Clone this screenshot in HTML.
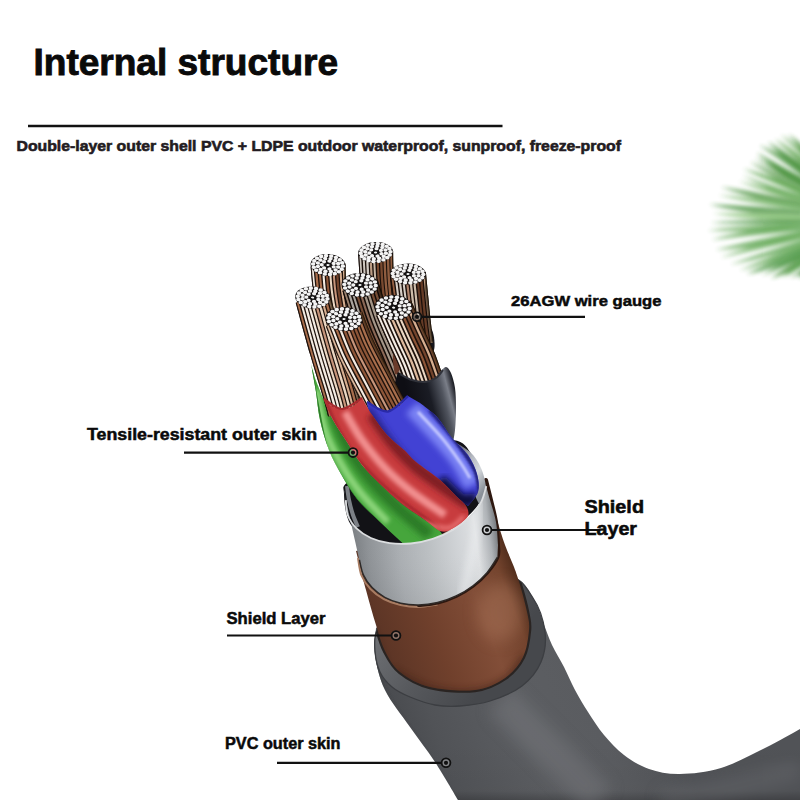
<!DOCTYPE html>
<html><head><meta charset="utf-8"><style>
html,body{margin:0;padding:0;background:#fff;overflow:hidden;width:800px;height:800px;}
svg{display:block;}
text{font-family:"Liberation Sans",sans-serif;font-weight:bold;}
</style></head><body>
<svg width="800" height="800" viewBox="0 0 800 800">
<defs>
<filter id="blurLeaf" x="-30%" y="-30%" width="160%" height="160%"><feGaussianBlur stdDeviation="1.9"/></filter>
<filter id="b05"><feGaussianBlur stdDeviation="0.5"/></filter>
<filter id="b1" x="-10%" y="-10%" width="120%" height="120%"><feGaussianBlur stdDeviation="1"/></filter>
<filter id="b2" x="-20%" y="-20%" width="140%" height="140%"><feGaussianBlur stdDeviation="2"/></filter>
<filter id="b3" x="-30%" y="-30%" width="160%" height="160%"><feGaussianBlur stdDeviation="3"/></filter>
<filter id="b6" x="-50%" y="-50%" width="200%" height="200%"><feGaussianBlur stdDeviation="8"/></filter>
<linearGradient id="gCapShade" x1="0" y1="0" x2="1" y2="1"><stop offset="0" stop-color="#fff" stop-opacity="0"/><stop offset="1" stop-color="#000" stop-opacity="0.15"/></linearGradient><linearGradient id="gPVC" gradientUnits="userSpaceOnUse" x1="380" y1="740" x2="640" y2="640"><stop offset="0" stop-color="#44464a"/><stop offset="0.2" stop-color="#515357"/><stop offset="0.5" stop-color="#5c5e62"/><stop offset="0.75" stop-color="#5a5c60"/><stop offset="1" stop-color="#515357"/></linearGradient><linearGradient id="gPVCb" gradientUnits="userSpaceOnUse" x1="0" y1="740" x2="0" y2="800"><stop offset="0" stop-color="#000" stop-opacity="0"/><stop offset="0.85" stop-color="#000" stop-opacity="0.03"/><stop offset="1" stop-color="#000" stop-opacity="0.2"/></linearGradient><clipPath id="cPVC"><path d="M376.0,628.0 C375.8,632.5 373.5,644.7 375.0,655.0 C376.5,665.3 379.2,678.0 385.0,690.0 C390.8,702.0 401.7,715.0 410.0,727.0 C418.3,739.0 427.0,749.8 435.0,762.0 C443.0,774.2 454.2,793.7 458.0,800.0 L800.0,800.0 L800.0,729.0 C794.2,732.2 778.2,741.5 765.0,748.0 C751.8,754.5 735.2,763.7 721.0,768.0 C706.8,772.3 692.0,773.8 680.0,774.0 C668.0,774.2 658.3,772.2 649.0,769.0 C639.7,765.8 631.5,760.7 624.0,755.0 C616.5,749.3 610.0,742.2 604.0,735.0 C598.0,727.8 592.8,719.5 588.0,712.0 C583.2,704.5 579.0,697.5 575.0,690.0 C571.0,682.5 567.8,674.5 564.0,667.0 C560.2,659.5 555.5,652.5 552.0,645.0 C548.5,637.5 546.0,629.5 543.0,622.0 C540.0,614.5 537.5,606.7 534.0,600.0 C530.5,593.3 526.8,586.7 522.0,582.0 C517.2,577.3 507.8,573.7 505.0,572.0 L440.0,580.0 Z"/></clipPath><linearGradient id="gRim" gradientUnits="userSpaceOnUse" x1="378" y1="640" x2="470" y2="706"><stop offset="0" stop-color="#6c6e72"/><stop offset="0.5" stop-color="#56585c"/><stop offset="1" stop-color="#46484c"/></linearGradient><clipPath id="cRim"><path d="M377.0,630.0 C373.7,637.2 374.5,644.0 375.0,651.0 C375.5,658.0 377.2,666.0 380.0,672.0 C382.8,678.0 387.0,682.8 392.0,687.0 C397.0,691.2 402.8,694.0 410.0,697.0 C417.2,700.0 426.7,703.5 435.0,705.0 C443.3,706.5 450.8,706.7 460.0,706.0 C469.2,705.3 479.7,704.3 490.0,701.0 C500.3,697.7 513.5,692.5 522.0,686.0 C530.5,679.5 537.2,671.0 541.0,662.0 C544.8,653.0 546.3,642.7 545.0,632.0 C543.7,621.3 539.3,607.3 533.0,598.0 C526.7,588.7 522.5,578.2 507.0,576.0 C491.5,573.8 458.7,579.7 440.0,585.0 C421.3,590.3 405.5,600.5 395.0,608.0 C384.5,615.5 380.3,622.8 377.0,630.0 Z"/></clipPath><linearGradient id="gCop" gradientUnits="userSpaceOnUse" x1="372" y1="660" x2="532" y2="600"><stop offset="0" stop-color="#46281c"/><stop offset="0.12" stop-color="#5e3626"/><stop offset="0.4" stop-color="#70402c"/><stop offset="0.7" stop-color="#824e38"/><stop offset="0.88" stop-color="#74442e"/><stop offset="1" stop-color="#462616"/></linearGradient><clipPath id="cCop"><path d="M356.0,551.0 C357.7,557.5 362.7,577.7 366.0,590.0 C369.3,602.3 372.8,614.8 376.0,625.0 C379.2,635.2 381.0,643.2 385.0,651.0 C389.0,658.8 392.5,666.0 400.0,672.0 C407.5,678.0 417.5,684.0 430.0,687.0 C442.5,690.0 462.5,691.5 475.0,690.0 C487.5,688.5 497.0,683.5 505.0,678.0 C513.0,672.5 519.0,665.0 523.0,657.0 C527.0,649.0 528.3,637.5 529.0,630.0 C529.7,622.5 528.5,619.5 527.0,612.0 C525.5,604.5 522.2,592.5 520.0,585.0 C517.8,577.5 516.5,573.7 514.0,567.0 C511.5,560.3 507.8,552.8 505.0,545.0 C502.2,537.2 498.3,524.2 497.0,520.0 Z"/></clipPath><linearGradient id="gBack" gradientUnits="userSpaceOnUse" x1="450" y1="450" x2="492" y2="478"><stop offset="0" stop-color="#50545c"/><stop offset="0.45" stop-color="#b8bcc4"/><stop offset="0.7" stop-color="#d4d8dc"/><stop offset="1" stop-color="#8a9098"/></linearGradient><linearGradient id="gBlack" gradientUnits="userSpaceOnUse" x1="412" y1="412" x2="458" y2="400"><stop offset="0" stop-color="#0e0e14"/><stop offset="0.45" stop-color="#1a1c24"/><stop offset="0.72" stop-color="#50545e"/><stop offset="0.85" stop-color="#7a7e88"/><stop offset="0.95" stop-color="#3a3c44"/><stop offset="1" stop-color="#1a1c22"/></linearGradient><linearGradient id="gBlue" gradientUnits="userSpaceOnUse" x1="392" y1="470" x2="475" y2="418"><stop offset="0" stop-color="#28288a"/><stop offset="0.25" stop-color="#3434b4"/><stop offset="0.5" stop-color="#4040d0"/><stop offset="0.7" stop-color="#5a5ee4"/><stop offset="0.8" stop-color="#a0a6f8"/><stop offset="0.88" stop-color="#5050d8"/><stop offset="1" stop-color="#1e1e6a"/></linearGradient><linearGradient id="gRed" gradientUnits="userSpaceOnUse" x1="343" y1="472" x2="420" y2="420"><stop offset="0" stop-color="#a02428"/><stop offset="0.15" stop-color="#cc4c4e"/><stop offset="0.3" stop-color="#ea7a7a"/><stop offset="0.42" stop-color="#d24a4a"/><stop offset="0.75" stop-color="#bc3838"/><stop offset="1" stop-color="#7a1c22"/></linearGradient><linearGradient id="gGreen" gradientUnits="userSpaceOnUse" x1="322" y1="472" x2="378" y2="450"><stop offset="0" stop-color="#206a1e"/><stop offset="0.2" stop-color="#4aa23e"/><stop offset="0.4" stop-color="#84cc6e"/><stop offset="0.6" stop-color="#46a03a"/><stop offset="1" stop-color="#1e5e1a"/></linearGradient><clipPath id="cb1"><path d="M393.1,251.1 C393.2,255.7 393.3,269.2 394.0,278.7 C394.6,288.2 396.4,303.4 396.9,308.3 L363.1,311.7 C362.6,306.6 360.9,291.1 360.0,281.3 C359.2,271.5 358.4,257.6 358.1,252.9 Z"/></clipPath><clipPath id="cb2"><path d="M345.4,263.6 C345.7,267.7 346.0,279.9 346.9,288.0 C347.8,296.1 350.1,308.3 350.8,312.3 L317.2,317.7 C316.5,313.4 314.2,300.6 313.1,292.0 C312.0,283.5 311.0,270.7 310.6,266.4 Z"/></clipPath><clipPath id="cb3"><path d="M425.9,271.9 C426.3,276.3 427.6,289.5 428.4,298.0 C429.2,306.4 430.0,315.3 430.9,322.8 C431.7,330.2 432.9,339.3 433.3,342.6 L400.7,347.4 C400.1,344.1 398.3,334.8 397.1,327.2 C396.0,319.7 394.8,310.6 393.6,302.0 C392.4,293.5 390.7,280.4 390.1,276.1 Z"/></clipPath><clipPath id="cb4"><path d="M377.6,279.3 C379.6,285.3 385.1,304.1 389.3,315.6 C393.6,327.0 398.4,336.9 403.0,347.8 C407.6,358.6 414.7,375.3 417.0,380.8 L383.0,395.2 C380.6,389.7 373.7,373.4 369.0,362.2 C364.3,351.1 359.1,340.4 354.7,328.4 C350.2,316.5 344.4,297.0 342.4,290.7 Z"/></clipPath><clipPath id="cb5"><path d="M411.0,300.3 C413.0,305.0 419.4,319.5 423.3,328.2 C427.3,337.0 431.2,344.4 434.6,352.8 C438.0,361.2 442.3,374.3 443.9,378.6 L408.1,391.4 C406.7,387.4 402.7,375.1 399.4,367.2 C396.2,359.2 392.5,352.4 388.7,343.8 C384.8,335.2 378.3,320.4 376.2,315.7 Z"/></clipPath><clipPath id="cGreen"><path d="M311.0,364.0 C311.8,368.7 314.5,382.7 316.0,392.0 C317.5,401.3 317.8,410.3 320.0,420.0 C322.2,429.7 325.5,441.0 329.0,450.0 C332.5,459.0 336.3,465.8 341.0,474.0 C345.7,482.2 350.5,491.0 357.0,499.0 C363.5,507.0 373.3,515.5 380.0,522.0 C386.7,528.5 392.0,533.3 397.0,538.0 C402.0,542.7 407.8,548.0 410.0,550.0 L450.0,552.0 C448.3,548.5 444.2,536.3 440.0,531.0 C435.8,525.7 431.3,524.5 425.0,520.0 C418.7,515.5 409.5,510.0 402.0,504.0 C394.5,498.0 386.7,490.5 380.0,484.0 C373.3,477.5 367.5,472.0 362.0,465.0 C356.5,458.0 351.8,449.5 347.0,442.0 C342.2,434.5 337.0,427.3 333.0,420.0 C329.0,412.7 326.0,405.0 323.0,398.0 C320.0,391.0 316.3,381.3 315.0,378.0 Z"/></clipPath><clipPath id="cb6"><path d="M329.5,293.3 C331.9,302.0 339.3,329.4 343.8,345.2 C348.4,360.9 353.8,377.7 356.8,388.1 C359.8,398.5 361.1,404.3 361.9,407.5 L328.1,416.5 C327.3,413.4 326.2,408.1 323.2,397.9 C320.2,387.6 314.8,370.7 310.2,354.8 C305.6,339.0 298.1,311.4 295.7,302.7 Z"/></clipPath><clipPath id="cb7"><path d="M362.1,311.8 C364.0,316.6 369.2,331.0 373.7,340.9 C378.3,350.7 383.7,360.3 389.3,371.0 C394.9,381.6 404.2,399.2 407.2,404.9 L372.8,423.1 C369.8,417.4 360.5,400.0 354.7,389.0 C349.0,378.0 343.1,367.6 338.3,357.1 C333.5,346.7 328.0,331.4 325.9,326.2 Z"/></clipPath><clipPath id="cBlue"><path d="M367.0,401.0 C368.7,402.3 373.5,407.3 377.0,409.0 C380.5,410.7 384.3,411.5 388.0,411.0 C391.7,410.5 395.7,408.5 399.0,406.0 C402.3,403.5 406.5,397.7 408.0,396.0 L420.0,403.0 C422.8,405.3 431.7,411.2 437.0,417.0 C442.3,422.8 446.8,431.7 452.0,438.0 C457.2,444.3 463.8,449.0 468.0,455.0 C472.2,461.0 475.3,467.8 477.0,474.0 C478.7,480.2 479.5,486.7 478.0,492.0 C476.5,497.3 469.7,503.7 468.0,506.0 L456.0,497.0 C453.3,494.3 446.7,486.7 440.0,481.0 C433.3,475.3 422.0,468.0 416.0,463.0 C410.0,458.0 408.8,455.5 404.0,451.0 C399.2,446.5 392.7,442.3 387.0,436.0 C381.3,429.7 373.3,418.8 370.0,413.0 C366.7,407.2 367.5,403.0 367.0,401.0 Z"/></clipPath><clipPath id="cRed"><path d="M323.0,398.0 C324.5,399.3 328.8,404.2 332.0,406.0 C335.2,407.8 338.5,409.0 342.0,409.0 C345.5,409.0 349.7,407.8 353.0,406.0 C356.3,404.2 360.5,399.3 362.0,398.0 L370.0,412.0 C372.8,415.8 381.3,428.7 387.0,435.0 C392.7,441.3 399.2,445.5 404.0,450.0 C408.8,454.5 410.0,457.0 416.0,462.0 C422.0,467.0 433.3,474.3 440.0,480.0 C446.7,485.7 451.7,491.7 456.0,496.0 C460.3,500.3 464.0,502.7 466.0,506.0 C468.0,509.3 469.3,512.7 468.0,516.0 C466.7,519.3 459.7,524.3 458.0,526.0 L448.0,531.0 C446.7,531.0 443.8,532.8 440.0,531.0 C436.2,529.2 431.3,524.5 425.0,520.0 C418.7,515.5 409.5,510.0 402.0,504.0 C394.5,498.0 386.7,490.5 380.0,484.0 C373.3,477.5 367.5,472.0 362.0,465.0 C356.5,458.0 351.8,449.5 347.0,442.0 C342.2,434.5 337.0,427.3 333.0,420.0 C329.0,412.7 324.7,401.7 323.0,398.0 Z"/></clipPath><linearGradient id="gSil" gradientUnits="userSpaceOnUse" x1="346" y1="560" x2="498" y2="540"><stop offset="0" stop-color="#6e7276"/><stop offset="0.15" stop-color="#8e9296"/><stop offset="0.35" stop-color="#aaaeb2"/><stop offset="0.55" stop-color="#bcc0c3"/><stop offset="0.75" stop-color="#d2d5d8"/><stop offset="0.86" stop-color="#dfe1e3"/><stop offset="0.95" stop-color="#aeb2b6"/><stop offset="1" stop-color="#7a7e82"/></linearGradient><linearGradient id="gSilV" gradientUnits="userSpaceOnUse" x1="0" y1="500" x2="0" y2="605"><stop offset="0" stop-color="#fff" stop-opacity="0.0"/><stop offset="0.4" stop-color="#fff" stop-opacity="0"/><stop offset="1" stop-color="#000" stop-opacity="0.05"/></linearGradient><clipPath id="cSil"><path d="M345.0,490.0 C345.2,491.7 343.6,488.3 346.0,500.0 C348.4,511.7 356.6,547.5 359.5,560.0 C362.4,572.5 361.3,570.3 363.4,574.9 C365.5,579.5 368.5,583.9 372.1,587.6 C375.7,591.3 380.1,594.7 384.8,597.3 C389.6,599.9 395.0,601.9 400.6,603.2 C406.2,604.5 412.5,605.1 418.7,605.0 C424.9,604.9 431.4,604.0 437.6,602.5 C443.8,601.0 450.2,598.7 456.1,595.9 C462.0,593.1 467.9,589.6 473.0,585.7 C478.1,581.8 482.9,577.4 487.0,572.6 C491.1,567.9 495.7,559.8 497.4,557.2 L498.0,545.0 C497.7,541.2 497.3,529.5 496.0,522.0 C494.7,514.5 491.7,506.0 490.0,500.0 C488.3,494.0 486.7,488.3 486.0,486.0 L486.3,486.1 C485.4,488.8 483.9,496.9 481.1,502.1 C478.3,507.3 474.3,512.6 469.6,517.2 C464.9,521.8 459.0,526.3 452.9,529.9 C446.8,533.5 439.8,536.6 432.8,538.9 C425.8,541.2 418.1,542.8 410.9,543.5 C403.7,544.2 396.3,544.1 389.6,543.2 C382.9,542.3 376.4,540.5 370.9,538.0 C365.4,535.5 360.4,532.2 356.5,528.4 C352.6,524.6 349.6,520.0 347.8,515.3 C346.0,510.6 346.3,503.5 345.8,500.1 C345.3,496.7 345.1,495.9 345.0,495.0 Z"/></clipPath></defs>
<rect width="800" height="800" fill="#fff"/>
<g filter="url(#blurLeaf)" opacity="0.95"><path d="M824.5,169.2 Q811.8,150.2 788.6,134.3 Q805.8,155.9 821.7,171.9 Z" fill="#468f38" opacity="0.90"/><path d="M821.1,171.2 Q806.8,150.9 781.0,134.8 Q802.4,155.6 819.1,173.4 Z" fill="#4e9a3e" opacity="0.82"/><path d="M821.7,176.3 Q804.2,155.4 775.0,139.0 Q798.7,161.8 819.2,179.3 Z" fill="#5aa24a" opacity="0.91"/><path d="M821.5,179.7 Q799.4,159.9 767.8,141.7 Q792.7,168.6 818.4,183.7 Z" fill="#3e8c32" opacity="0.87"/><path d="M815.1,180.1 Q794.4,158.1 759.7,145.3 Q788.9,166.3 812.5,183.9 Z" fill="#3e8c32" opacity="0.78"/><path d="M816.4,185.7 Q789.7,170.5 756.7,152.7 Q784.9,178.7 814.2,189.4 Z" fill="#3e8c32" opacity="0.95"/><path d="M820.6,191.8 Q792.1,174.6 754.7,158.2 Q788.9,180.5 819.1,194.5 Z" fill="#468f38" opacity="0.90"/><path d="M819.5,192.9 Q789.3,176.9 750.1,162.1 Q784.6,186.6 817.3,197.4 Z" fill="#468f38" opacity="0.71"/><path d="M819.2,197.2 Q787.0,179.6 743.4,168.8 Q783.6,188.1 817.6,201.1 Z" fill="#5aa24a" opacity="0.93"/><path d="M815.2,199.3 Q782.1,189.8 742.6,175.6 Q779.9,196.1 814.2,202.2 Z" fill="#4e9a3e" opacity="0.85"/><path d="M814.9,201.9 Q781.3,190.6 738.9,181.3 Q779.1,197.9 813.9,205.3 Z" fill="#6aae5a" opacity="0.87"/><path d="M811.9,204.6 Q771.6,193.9 721.0,187.1 Q769.2,204.5 810.8,209.5 Z" fill="#3e8c32" opacity="0.79"/><path d="M808.4,207.6 Q768.9,197.3 718.9,195.3 Q767.3,207.0 807.7,212.1 Z" fill="#6aae5a" opacity="0.73"/><path d="M803.4,211.0 Q761.3,205.7 709.3,204.4 Q760.2,216.8 802.9,216.1 Z" fill="#3e8c32" opacity="0.81"/><path d="M810.6,215.1 Q766.8,211.8 713.1,213.5 Q766.4,222.1 810.4,219.9 Z" fill="#8cc47c" opacity="0.95"/><path d="M809.3,219.6 Q764.8,217.9 710.5,222.9 Q764.9,224.5 809.4,222.6 Z" fill="#44923a" opacity="0.86"/><path d="M804.8,221.9 Q761.0,223.1 707.8,230.4 Q761.6,233.2 805.1,226.5 Z" fill="#4e9c40" opacity="0.71"/><path d="M805.1,225.9 Q762.1,224.9 711.6,239.7 Q763.3,234.3 805.6,230.2 Z" fill="#4e9c40" opacity="0.77"/><path d="M812.9,228.5 Q768.9,236.6 715.7,249.7 Q770.9,247.0 813.8,233.3 Z" fill="#4e9c40" opacity="0.77"/><path d="M814.6,231.6 Q770.9,237.3 720.8,257.5 Q773.3,246.8 815.7,236.0 Z" fill="#5aa44c" opacity="0.73"/><path d="M807.8,238.1 Q772.7,249.2 730.4,264.6 Q774.9,256.1 808.8,241.3 Z" fill="#4e9c40" opacity="0.81"/><path d="M816.5,238.3 Q781.1,250.7 739.7,270.5 Q784.6,259.8 818.1,242.5 Z" fill="#4e9c40" opacity="0.76"/><path d="M805.4,245.6 Q778.8,257.8 746.8,274.0 Q783.1,267.7 807.4,250.2 Z" fill="#44923a" opacity="0.81"/><path d="M818.7,244.4 Q791.9,255.6 762.3,275.6 Q795.5,262.6 820.3,247.7 Z" fill="#44923a" opacity="0.91"/><path d="M810.3,252.6 Q791.4,262.0 771.2,278.5 Q796.7,271.0 812.8,256.7 Z" fill="#3a8a2e" opacity="0.79"/><path d="M819.4,251.1 Q800.1,258.3 783.3,277.5 Q804.8,265.5 821.6,254.5 Z" fill="#4e9c40" opacity="0.86"/><path d="M817.6,256.0 Q806.0,266.7 790.3,277.9 Q810.1,272.4 819.5,258.6 Z" fill="#34842a" opacity="0.70"/><path d="M816.2,262.0 Q804.0,263.9 799.4,278.8 Q809.8,271.0 818.9,265.2 Z" fill="#34842a" opacity="0.95"/></g>
<path d="M376.0,628.0 C375.8,632.5 373.5,644.7 375.0,655.0 C376.5,665.3 379.2,678.0 385.0,690.0 C390.8,702.0 401.7,715.0 410.0,727.0 C418.3,739.0 427.0,749.8 435.0,762.0 C443.0,774.2 454.2,793.7 458.0,800.0 L800.0,800.0 L800.0,729.0 C794.2,732.2 778.2,741.5 765.0,748.0 C751.8,754.5 735.2,763.7 721.0,768.0 C706.8,772.3 692.0,773.8 680.0,774.0 C668.0,774.2 658.3,772.2 649.0,769.0 C639.7,765.8 631.5,760.7 624.0,755.0 C616.5,749.3 610.0,742.2 604.0,735.0 C598.0,727.8 592.8,719.5 588.0,712.0 C583.2,704.5 579.0,697.5 575.0,690.0 C571.0,682.5 567.8,674.5 564.0,667.0 C560.2,659.5 555.5,652.5 552.0,645.0 C548.5,637.5 546.0,629.5 543.0,622.0 C540.0,614.5 537.5,606.7 534.0,600.0 C530.5,593.3 526.8,586.7 522.0,582.0 C517.2,577.3 507.8,573.7 505.0,572.0 L440.0,580.0 Z" fill="url(#gPVC)"/>
<path d="M376.0,628.0 C375.8,632.5 373.5,644.7 375.0,655.0 C376.5,665.3 379.2,678.0 385.0,690.0 C390.8,702.0 401.7,715.0 410.0,727.0 C418.3,739.0 427.0,749.8 435.0,762.0 C443.0,774.2 454.2,793.7 458.0,800.0 L800.0,800.0 L800.0,729.0 C794.2,732.2 778.2,741.5 765.0,748.0 C751.8,754.5 735.2,763.7 721.0,768.0 C706.8,772.3 692.0,773.8 680.0,774.0 C668.0,774.2 658.3,772.2 649.0,769.0 C639.7,765.8 631.5,760.7 624.0,755.0 C616.5,749.3 610.0,742.2 604.0,735.0 C598.0,727.8 592.8,719.5 588.0,712.0 C583.2,704.5 579.0,697.5 575.0,690.0 C571.0,682.5 567.8,674.5 564.0,667.0 C560.2,659.5 555.5,652.5 552.0,645.0 C548.5,637.5 546.0,629.5 543.0,622.0 C540.0,614.5 537.5,606.7 534.0,600.0 C530.5,593.3 526.8,586.7 522.0,582.0 C517.2,577.3 507.8,573.7 505.0,572.0 L440.0,580.0 Z" fill="url(#gPVCb)"/>
<g clip-path="url(#cPVC)"><path d="M372.0,640.0 C373.5,648.3 375.3,675.0 381.0,690.0 C386.7,705.0 397.3,716.7 406.0,730.0 C414.7,743.3 424.7,756.7 433.0,770.0 C441.3,783.3 452.2,803.3 456.0,810.0" stroke="#3a3c40" stroke-width="6" fill="none" filter="url(#b2)"/><path d="M500.0,700.0 C507.5,707.5 528.3,728.3 545.0,745.0 C561.7,761.7 590.8,790.8 600.0,800.0" stroke="#7a7c80" stroke-width="34" fill="none" opacity="0.45" filter="url(#b6)"/><path d="M660.0,800.0 C670.0,798.3 696.7,795.0 720.0,790.0 C743.3,785.0 786.7,773.3 800.0,770.0" stroke="#74767a" stroke-width="20" fill="none" opacity="0.3" filter="url(#b6)"/></g>
<path d="M377.0,630.0 C373.7,637.2 374.5,644.0 375.0,651.0 C375.5,658.0 377.2,666.0 380.0,672.0 C382.8,678.0 387.0,682.8 392.0,687.0 C397.0,691.2 402.8,694.0 410.0,697.0 C417.2,700.0 426.7,703.5 435.0,705.0 C443.3,706.5 450.8,706.7 460.0,706.0 C469.2,705.3 479.7,704.3 490.0,701.0 C500.3,697.7 513.5,692.5 522.0,686.0 C530.5,679.5 537.2,671.0 541.0,662.0 C544.8,653.0 546.3,642.7 545.0,632.0 C543.7,621.3 539.3,607.3 533.0,598.0 C526.7,588.7 522.5,578.2 507.0,576.0 C491.5,573.8 458.7,579.7 440.0,585.0 C421.3,590.3 405.5,600.5 395.0,608.0 C384.5,615.5 380.3,622.8 377.0,630.0 Z" fill="url(#gRim)" stroke="#3c3e42" stroke-width="1.3"/>
<g clip-path="url(#cRim)"><path d="M356.0,551.0 C357.7,557.5 362.7,577.7 366.0,590.0 C369.3,602.3 372.8,614.8 376.0,625.0 C379.2,635.2 381.0,643.2 385.0,651.0 C389.0,658.8 392.5,666.0 400.0,672.0 C407.5,678.0 417.5,684.0 430.0,687.0 C442.5,690.0 462.5,691.5 475.0,690.0 C487.5,688.5 497.0,683.5 505.0,678.0 C513.0,672.5 519.0,665.0 523.0,657.0 C527.0,649.0 528.3,637.5 529.0,630.0 C529.7,622.5 528.5,619.5 527.0,612.0 C525.5,604.5 522.2,592.5 520.0,585.0 C517.8,577.5 516.5,573.7 514.0,567.0 C511.5,560.3 507.8,552.8 505.0,545.0 C502.2,537.2 498.3,524.2 497.0,520.0 Z" fill="#2a2422" stroke="#2a2422" stroke-width="4.5"/></g>
<path d="M356.0,551.0 C357.7,557.5 362.7,577.7 366.0,590.0 C369.3,602.3 372.8,614.8 376.0,625.0 C379.2,635.2 381.0,643.2 385.0,651.0 C389.0,658.8 392.5,666.0 400.0,672.0 C407.5,678.0 417.5,684.0 430.0,687.0 C442.5,690.0 462.5,691.5 475.0,690.0 C487.5,688.5 497.0,683.5 505.0,678.0 C513.0,672.5 519.0,665.0 523.0,657.0 C527.0,649.0 528.3,637.5 529.0,630.0 C529.7,622.5 528.5,619.5 527.0,612.0 C525.5,604.5 522.2,592.5 520.0,585.0 C517.8,577.5 516.5,573.7 514.0,567.0 C511.5,560.3 507.8,552.8 505.0,545.0 C502.2,537.2 498.3,524.2 497.0,520.0 Z" fill="url(#gCop)"/>
<g clip-path="url(#cCop)"><ellipse cx="500" cy="612" rx="22" ry="30" fill="#b07a5e" opacity="0.45" filter="url(#b6)"/><path d="M392.0,672.0 C398.3,675.0 416.2,686.5 430.0,690.0 C443.8,693.5 462.2,694.7 475.0,693.0 C487.8,691.3 498.5,686.0 507.0,680.0 C515.5,674.0 522.8,660.8 526.0,657.0" stroke="#3a1e12" stroke-width="10" opacity="0.45" fill="none" filter="url(#b3)"/></g>
<path d="M358.0,558.0 C358.6,560.9 359.4,570.3 361.5,575.5 C363.6,580.7 366.8,585.1 370.5,589.0 C374.2,592.9 378.8,596.3 383.8,599.0 C388.8,601.7 394.8,603.7 400.6,605.0 C406.4,606.3 412.5,607.1 418.7,607.0 C424.9,606.9 434.5,604.9 437.6,604.5" stroke="#a87c62" stroke-width="2" fill="none"/>
<path d="M486.0,480.0 C486.8,483.3 489.3,493.0 491.0,500.0 C492.7,507.0 494.8,514.5 496.0,522.0 C497.2,529.5 497.8,539.1 498.0,545.0 C498.2,550.9 499.2,552.6 497.4,557.2 C495.6,561.8 491.1,567.9 487.0,572.6 C482.9,577.4 478.1,581.8 473.0,585.7 C467.9,589.6 462.0,593.1 456.1,595.9 C450.2,598.7 443.8,601.0 437.6,602.5 C431.4,604.0 421.9,604.6 418.7,605.0" stroke="#2e1810" stroke-width="4" stroke-linecap="round" fill="none"/>
<path d="M344.0,494.0 C343.8,486.5 340.7,488.0 350.0,480.0 C359.3,472.0 382.8,452.7 400.0,446.0 C417.2,439.3 441.0,438.5 453.0,440.0 C465.0,441.5 467.0,448.0 472.0,455.0 C477.0,462.0 482.0,473.7 483.0,482.0 C484.0,490.3 483.2,497.3 478.0,505.0 C472.8,512.7 462.8,521.2 452.0,528.0 C441.2,534.8 425.3,543.8 413.0,546.0 C400.7,548.2 388.3,544.5 378.0,541.0 C367.7,537.5 356.7,532.8 351.0,525.0 C345.3,517.2 344.2,501.5 344.0,494.0 Z" fill="#121216"/>
<path d="M450.0,441.0 C455.0,441.7 464.8,447.5 470.0,452.0 C475.2,456.5 478.3,462.0 481.0,468.0 C483.7,474.0 485.5,481.3 486.0,488.0 C486.5,494.7 485.5,506.0 484.0,508.0 C482.5,510.0 479.3,505.0 477.0,500.0 C474.7,495.0 473.2,485.0 470.0,478.0 C466.8,471.0 463.0,463.0 458.0,458.0 C453.0,453.0 441.3,450.8 440.0,448.0 C438.7,445.2 445.0,440.3 450.0,441.0 Z" fill="url(#gBack)"/>
<path d="M347.0,486.0 C347.3,488.3 348.0,495.2 349.0,500.0 C350.0,504.8 351.5,510.5 353.0,515.0 C354.5,519.5 357.2,525.0 358.0,527.0" stroke="#7c8086" stroke-width="4" fill="none" filter="url(#b05)"/>
<path d="M393.1,251.1 C393.2,255.7 393.3,269.2 394.0,278.7 C394.6,288.2 396.4,303.4 396.9,308.3 L363.1,311.7 C362.6,306.6 360.9,291.1 360.0,281.3 C359.2,271.5 358.4,257.6 358.1,252.9 Z" fill="#1e120c"/>
<g clip-path="url(#cb1)"><path d="M394.4,237.3 C394.5,239.6 394.6,244.2 394.8,251.0 C395.0,257.9 395.0,269.1 395.6,278.6 C396.3,288.1 397.9,300.8 398.6,308.1 C399.3,315.5 399.8,320.5 400.1,322.9" stroke="#a86e4c" stroke-width="2.01" fill="none"/><path d="M390.9,237.4 C390.9,239.7 391.1,244.3 391.3,251.2 C391.6,258.1 391.6,269.3 392.3,278.8 C392.9,288.4 394.5,301.1 395.2,308.5 C396.0,315.9 396.5,320.8 396.7,323.3" stroke="#a86e4c" stroke-width="2.30" fill="none"/><path d="M387.3,237.5 C387.4,239.8 387.6,244.5 387.8,251.4 C388.1,258.3 388.2,269.5 388.9,279.1 C389.5,288.7 391.1,301.4 391.8,308.8 C392.6,316.2 393.1,321.2 393.3,323.7" stroke="#a86e4c" stroke-width="2.39" fill="none"/><path d="M383.8,237.7 C383.9,240.0 384.1,244.6 384.3,251.6 C384.6,258.5 384.8,269.8 385.5,279.4 C386.2,289.0 387.7,301.7 388.5,309.2 C389.2,316.6 389.7,321.6 389.9,324.1" stroke="#a86e4c" stroke-width="2.36" fill="none"/><path d="M380.2,237.8 C380.3,240.1 380.5,244.8 380.8,251.7 C381.2,258.7 381.4,270.0 382.1,279.6 C382.8,289.2 384.3,302.0 385.1,309.5 C385.8,317.0 386.3,321.9 386.6,324.4" stroke="#8e5638" stroke-width="2.34" fill="none"/><path d="M376.7,237.9 C376.8,240.3 377.0,244.9 377.3,251.9 C377.7,258.9 378.0,270.2 378.7,279.9 C379.4,289.5 380.9,302.3 381.7,309.8 C382.4,317.3 382.9,322.3 383.2,324.8" stroke="#8e5638" stroke-width="2.05" fill="none"/><path d="M373.1,238.1 C373.2,240.4 373.5,245.1 373.9,252.1 C374.2,259.1 374.6,270.4 375.3,280.1 C376.0,289.8 377.6,302.7 378.3,310.2 C379.1,317.7 379.6,322.7 379.8,325.2" stroke="#ead6c2" stroke-width="2.01" fill="none"/><path d="M369.6,238.2 C369.7,240.5 370.0,245.2 370.4,252.3 C370.7,259.3 371.2,270.7 371.9,280.4 C372.7,290.1 374.2,303.0 374.9,310.5 C375.7,318.0 376.2,323.1 376.4,325.6" stroke="#dcb89c" stroke-width="2.20" fill="none"/><path d="M366.0,238.3 C366.2,240.7 366.4,245.4 366.9,252.4 C367.3,259.5 367.7,270.9 368.5,280.6 C369.3,290.4 370.8,303.3 371.5,310.8 C372.3,318.4 372.8,323.4 373.1,325.9" stroke="#f4ebe2" stroke-width="2.35" fill="none"/><path d="M362.5,238.5 C362.6,240.8 362.9,245.5 363.4,252.6 C363.8,259.7 364.3,271.1 365.1,280.9 C365.9,290.7 367.4,303.6 368.2,311.2 C368.9,318.8 369.4,323.8 369.7,326.3" stroke="#f4ebe2" stroke-width="2.02" fill="none"/><path d="M358.9,238.6 C359.1,241.0 359.4,245.7 359.9,252.8 C360.3,259.9 360.9,271.4 361.7,281.2 C362.6,290.9 364.0,303.9 364.8,311.5 C365.5,319.1 366.0,324.2 366.3,326.7" stroke="#f4ebe2" stroke-width="2.05" fill="none"/><path d="M355.4,238.7 C355.5,241.1 355.9,245.8 356.4,253.0 C356.9,260.1 357.5,271.6 358.4,281.4 C359.2,291.2 360.6,304.2 361.4,311.9 C362.2,319.5 362.7,324.5 362.9,327.1" stroke="#f4ebe2" stroke-width="2.10" fill="none"/><path d="M393.1,251.1 C393.2,255.7 393.3,269.2 394.0,278.7 C394.6,288.2 396.4,303.4 396.9,308.3" stroke="#140a06" stroke-width="5" fill="none" opacity="0.75" filter="url(#b1)"/><path d="M358.1,252.9 C358.4,257.6 359.2,271.5 360.0,281.3 C360.9,291.1 362.6,306.6 363.1,311.7" stroke="#140a06" stroke-width="2.2" fill="none" opacity="0.8"/><path d="M393.1,251.1 C393.2,255.7 393.3,269.2 394.0,278.7 C394.6,288.2 396.4,303.4 396.9,308.3 L363.1,311.7 C362.6,306.6 360.9,291.1 360.0,281.3 C359.2,271.5 358.4,257.6 358.1,252.9 Z" fill="#000" opacity="0.15"/></g>
<g transform="translate(375.6,252.5) rotate(-3)"><ellipse cx="0" cy="0" rx="17.5" ry="10.5" fill="#141010"/><ellipse cx="14.9" cy="0.0" rx="2.25" ry="1.80" fill="#f4f4f4"/><ellipse cx="14.0" cy="3.1" rx="2.25" ry="1.80" fill="#f4f4f4"/><ellipse cx="11.4" cy="5.7" rx="2.25" ry="1.80" fill="#f4f4f4"/><ellipse cx="7.4" cy="7.7" rx="2.25" ry="1.80" fill="#f4f4f4"/><ellipse cx="2.6" cy="8.8" rx="2.25" ry="1.80" fill="#f4f4f4"/><ellipse cx="-2.6" cy="8.8" rx="2.25" ry="1.80" fill="#f4f4f4"/><ellipse cx="-7.4" cy="7.7" rx="2.25" ry="1.80" fill="#f4f4f4"/><ellipse cx="-11.4" cy="5.7" rx="2.25" ry="1.80" fill="#f4f4f4"/><ellipse cx="-14.0" cy="3.1" rx="2.25" ry="1.80" fill="#f4f4f4"/><ellipse cx="-14.9" cy="0.0" rx="2.25" ry="1.80" fill="#f4f4f4"/><ellipse cx="-14.0" cy="-3.1" rx="2.25" ry="1.80" fill="#f4f4f4"/><ellipse cx="-11.4" cy="-5.7" rx="2.25" ry="1.80" fill="#f4f4f4"/><ellipse cx="-7.4" cy="-7.7" rx="2.25" ry="1.80" fill="#f4f4f4"/><ellipse cx="-2.6" cy="-8.8" rx="2.25" ry="1.80" fill="#f4f4f4"/><ellipse cx="2.6" cy="-8.8" rx="2.25" ry="1.80" fill="#f4f4f4"/><ellipse cx="7.4" cy="-7.7" rx="2.25" ry="1.80" fill="#f4f4f4"/><ellipse cx="11.4" cy="-5.7" rx="2.25" ry="1.80" fill="#f4f4f4"/><ellipse cx="14.0" cy="-3.1" rx="2.25" ry="1.80" fill="#f4f4f4"/><ellipse cx="10.3" cy="1.3" rx="2.2" ry="1.76" fill="#f4f4f4"/><ellipse cx="7.9" cy="4.2" rx="2.2" ry="1.76" fill="#f4f4f4"/><ellipse cx="3.3" cy="6.0" rx="2.2" ry="1.76" fill="#f4f4f4"/><ellipse cx="-2.1" cy="6.2" rx="2.2" ry="1.76" fill="#f4f4f4"/><ellipse cx="-7.0" cy="4.7" rx="2.2" ry="1.76" fill="#f4f4f4"/><ellipse cx="-10.0" cy="2.0" rx="2.2" ry="1.76" fill="#f4f4f4"/><ellipse cx="-10.3" cy="-1.3" rx="2.2" ry="1.76" fill="#f4f4f4"/><ellipse cx="-7.9" cy="-4.2" rx="2.2" ry="1.76" fill="#f4f4f4"/><ellipse cx="-3.3" cy="-6.0" rx="2.2" ry="1.76" fill="#f4f4f4"/><ellipse cx="2.1" cy="-6.2" rx="2.2" ry="1.76" fill="#f4f4f4"/><ellipse cx="7.0" cy="-4.7" rx="2.2" ry="1.76" fill="#f4f4f4"/><ellipse cx="10.0" cy="-2.0" rx="2.2" ry="1.76" fill="#f4f4f4"/><ellipse cx="5.8" cy="1.5" rx="2.1" ry="1.68" fill="#f4f4f4"/><ellipse cx="1.7" cy="3.6" rx="2.1" ry="1.68" fill="#f4f4f4"/><ellipse cx="-3.7" cy="3.1" rx="2.1" ry="1.68" fill="#f4f4f4"/><ellipse cx="-6.3" cy="0.2" rx="2.1" ry="1.68" fill="#f4f4f4"/><ellipse cx="-4.2" cy="-2.8" rx="2.1" ry="1.68" fill="#f4f4f4"/><ellipse cx="1.1" cy="-3.7" rx="2.1" ry="1.68" fill="#f4f4f4"/><ellipse cx="5.5" cy="-1.8" rx="2.1" ry="1.68" fill="#f4f4f4"/><ellipse cx="0" cy="0" rx="2.2" ry="1.7" fill="#f2f2f2" stroke="#111" stroke-width="1.2"/></g>
<path d="M345.4,263.6 C345.7,267.7 346.0,279.9 346.9,288.0 C347.8,296.1 350.1,308.3 350.8,312.3 L317.2,317.7 C316.5,313.4 314.2,300.6 313.1,292.0 C312.0,283.5 311.0,270.7 310.6,266.4 Z" fill="#1e120c"/>
<g clip-path="url(#cb2)"><path d="M346.5,251.3 C346.6,253.3 346.8,257.4 347.2,263.5 C347.5,269.5 347.7,279.7 348.6,287.8 C349.4,295.9 351.5,306.0 352.5,312.0 C353.4,318.1 354.1,322.2 354.4,324.2" stroke="#d6ae90" stroke-width="2.21" fill="none"/><path d="M343.0,251.5 C343.1,253.6 343.3,257.6 343.7,263.7 C344.1,269.9 344.3,280.0 345.2,288.2 C346.1,296.3 348.1,306.5 349.1,312.6 C350.1,318.7 350.7,322.8 351.1,324.8" stroke="#d6ae90" stroke-width="2.37" fill="none"/><path d="M339.4,251.7 C339.5,253.8 339.8,257.9 340.2,264.0 C340.6,270.2 340.9,280.4 341.8,288.6 C342.7,296.8 344.8,307.0 345.8,313.1 C346.7,319.3 347.4,323.3 347.7,325.4" stroke="#d6ae90" stroke-width="2.05" fill="none"/><path d="M335.9,252.0 C336.0,254.0 336.3,258.1 336.7,264.3 C337.2,270.5 337.5,280.8 338.4,289.0 C339.4,297.2 341.4,307.5 342.4,313.7 C343.4,319.8 344.0,323.9 344.4,326.0" stroke="#74442c" stroke-width="2.22" fill="none"/><path d="M332.3,252.2 C332.5,254.2 332.8,258.4 333.2,264.6 C333.7,270.8 334.1,281.1 335.1,289.4 C336.0,297.7 338.0,308.0 339.0,314.2 C340.0,320.4 340.7,324.5 341.0,326.6" stroke="#c6947a" stroke-width="2.02" fill="none"/><path d="M328.8,252.4 C328.9,254.5 329.3,258.6 329.7,264.9 C330.2,271.1 330.7,281.5 331.7,289.8 C332.7,298.1 334.7,308.5 335.7,314.7 C336.7,321.0 337.3,325.1 337.7,327.2" stroke="#ead6c2" stroke-width="2.05" fill="none"/><path d="M325.2,252.6 C325.4,254.7 325.7,258.9 326.3,265.1 C326.8,271.4 327.3,281.8 328.3,290.2 C329.3,298.6 331.3,309.0 332.3,315.3 C333.3,321.5 334.0,325.7 334.3,327.8" stroke="#8e5638" stroke-width="2.05" fill="none"/><path d="M321.7,252.8 C321.9,254.9 322.2,259.1 322.8,265.4 C323.3,271.7 323.9,282.2 324.9,290.6 C326.0,299.0 328.0,309.5 329.0,315.8 C330.0,322.1 330.6,326.3 331.0,328.4" stroke="#f4ebe2" stroke-width="2.11" fill="none"/><path d="M318.1,253.0 C318.3,255.1 318.7,259.4 319.3,265.7 C319.8,272.0 320.5,282.6 321.6,291.0 C322.6,299.5 324.6,310.0 325.6,316.3 C326.6,322.7 327.3,326.9 327.6,329.0" stroke="#aa6e4c" stroke-width="2.05" fill="none"/><path d="M314.6,253.3 C314.8,255.4 315.2,259.6 315.8,266.0 C316.4,272.3 317.1,282.9 318.2,291.4 C319.3,299.9 321.2,310.5 322.2,316.9 C323.3,323.2 323.9,327.5 324.3,329.6" stroke="#aa6e4c" stroke-width="2.20" fill="none"/><path d="M311.0,253.5 C311.3,255.6 311.7,259.9 312.3,266.3 C312.9,272.6 313.7,283.3 314.8,291.8 C315.9,300.3 317.9,311.0 318.9,317.4 C319.9,323.8 320.6,328.1 320.9,330.2" stroke="#f4ebe2" stroke-width="2.16" fill="none"/><path d="M307.5,253.7 C307.7,255.8 308.2,260.1 308.8,266.5 C309.5,273.0 310.3,283.7 311.4,292.2 C312.6,300.8 314.5,311.5 315.5,318.0 C316.6,324.4 317.2,328.7 317.6,330.8" stroke="#dcb89c" stroke-width="2.10" fill="none"/><path d="M345.4,263.6 C345.7,267.7 346.0,279.9 346.9,288.0 C347.8,296.1 350.1,308.3 350.8,312.3" stroke="#140a06" stroke-width="5" fill="none" opacity="0.75" filter="url(#b1)"/><path d="M310.6,266.4 C311.0,270.7 312.0,283.5 313.1,292.0 C314.2,300.6 316.5,313.4 317.2,317.7" stroke="#140a06" stroke-width="2.2" fill="none" opacity="0.8"/></g>
<g transform="translate(328,265) rotate(4)"><ellipse cx="0" cy="0" rx="17.5" ry="11" fill="#141010"/><ellipse cx="14.9" cy="0.0" rx="2.25" ry="1.80" fill="#f4f4f4"/><ellipse cx="14.0" cy="3.2" rx="2.25" ry="1.80" fill="#f4f4f4"/><ellipse cx="11.4" cy="6.0" rx="2.25" ry="1.80" fill="#f4f4f4"/><ellipse cx="7.4" cy="8.1" rx="2.25" ry="1.80" fill="#f4f4f4"/><ellipse cx="2.6" cy="9.2" rx="2.25" ry="1.80" fill="#f4f4f4"/><ellipse cx="-2.6" cy="9.2" rx="2.25" ry="1.80" fill="#f4f4f4"/><ellipse cx="-7.4" cy="8.1" rx="2.25" ry="1.80" fill="#f4f4f4"/><ellipse cx="-11.4" cy="6.0" rx="2.25" ry="1.80" fill="#f4f4f4"/><ellipse cx="-14.0" cy="3.2" rx="2.25" ry="1.80" fill="#f4f4f4"/><ellipse cx="-14.9" cy="0.0" rx="2.25" ry="1.80" fill="#f4f4f4"/><ellipse cx="-14.0" cy="-3.2" rx="2.25" ry="1.80" fill="#f4f4f4"/><ellipse cx="-11.4" cy="-6.0" rx="2.25" ry="1.80" fill="#f4f4f4"/><ellipse cx="-7.4" cy="-8.1" rx="2.25" ry="1.80" fill="#f4f4f4"/><ellipse cx="-2.6" cy="-9.2" rx="2.25" ry="1.80" fill="#f4f4f4"/><ellipse cx="2.6" cy="-9.2" rx="2.25" ry="1.80" fill="#f4f4f4"/><ellipse cx="7.4" cy="-8.1" rx="2.25" ry="1.80" fill="#f4f4f4"/><ellipse cx="11.4" cy="-6.0" rx="2.25" ry="1.80" fill="#f4f4f4"/><ellipse cx="14.0" cy="-3.2" rx="2.25" ry="1.80" fill="#f4f4f4"/><ellipse cx="10.3" cy="1.3" rx="2.2" ry="1.76" fill="#f4f4f4"/><ellipse cx="7.9" cy="4.4" rx="2.2" ry="1.76" fill="#f4f4f4"/><ellipse cx="3.3" cy="6.3" rx="2.2" ry="1.76" fill="#f4f4f4"/><ellipse cx="-2.1" cy="6.5" rx="2.2" ry="1.76" fill="#f4f4f4"/><ellipse cx="-7.0" cy="4.9" rx="2.2" ry="1.76" fill="#f4f4f4"/><ellipse cx="-10.0" cy="2.1" rx="2.2" ry="1.76" fill="#f4f4f4"/><ellipse cx="-10.3" cy="-1.3" rx="2.2" ry="1.76" fill="#f4f4f4"/><ellipse cx="-7.9" cy="-4.4" rx="2.2" ry="1.76" fill="#f4f4f4"/><ellipse cx="-3.3" cy="-6.3" rx="2.2" ry="1.76" fill="#f4f4f4"/><ellipse cx="2.1" cy="-6.5" rx="2.2" ry="1.76" fill="#f4f4f4"/><ellipse cx="7.0" cy="-4.9" rx="2.2" ry="1.76" fill="#f4f4f4"/><ellipse cx="10.0" cy="-2.1" rx="2.2" ry="1.76" fill="#f4f4f4"/><ellipse cx="5.8" cy="1.5" rx="2.1" ry="1.68" fill="#f4f4f4"/><ellipse cx="1.7" cy="3.8" rx="2.1" ry="1.68" fill="#f4f4f4"/><ellipse cx="-3.7" cy="3.2" rx="2.1" ry="1.68" fill="#f4f4f4"/><ellipse cx="-6.3" cy="0.2" rx="2.1" ry="1.68" fill="#f4f4f4"/><ellipse cx="-4.2" cy="-3.0" rx="2.1" ry="1.68" fill="#f4f4f4"/><ellipse cx="1.1" cy="-3.9" rx="2.1" ry="1.68" fill="#f4f4f4"/><ellipse cx="5.5" cy="-1.9" rx="2.1" ry="1.68" fill="#f4f4f4"/><ellipse cx="0" cy="0" rx="2.2" ry="1.7" fill="#f2f2f2" stroke="#111" stroke-width="1.2"/></g>
<path d="M420.0,325.0 C421.3,321.3 429.7,325.8 432.0,330.0 C434.3,334.2 435.3,346.3 434.0,350.0 C432.7,353.7 426.3,356.2 424.0,352.0 C421.7,347.8 418.7,328.7 420.0,325.0 Z" fill="#16161c"/>
<path d="M425.9,271.9 C426.3,276.3 427.6,289.5 428.4,298.0 C429.2,306.4 430.0,315.3 430.9,322.8 C431.7,330.2 432.9,339.3 433.3,342.6 L400.7,347.4 C400.1,344.1 398.3,334.8 397.1,327.2 C396.0,319.7 394.8,310.6 393.6,302.0 C392.4,293.5 390.7,280.4 390.1,276.1 Z" fill="#1e120c"/>
<g clip-path="url(#cb3)"><path d="M426.4,258.7 C426.6,260.9 427.1,265.2 427.7,271.7 C428.3,278.2 429.3,289.3 430.1,297.8 C430.9,306.2 431.7,315.1 432.5,322.5 C433.3,330.0 434.3,337.4 434.9,342.3 C435.6,347.3 436.0,350.5 436.2,352.2" stroke="#a86e4c" stroke-width="2.21" fill="none"/><path d="M422.8,259.1 C423.0,261.3 423.5,265.6 424.1,272.1 C424.7,278.6 425.8,289.7 426.6,298.2 C427.5,306.6 428.3,315.5 429.2,323.0 C430.0,330.4 431.1,337.8 431.7,342.8 C432.3,347.8 432.7,351.1 432.9,352.7" stroke="#d6ae90" stroke-width="2.13" fill="none"/><path d="M419.2,259.5 C419.4,261.7 419.9,266.1 420.5,272.6 C421.2,279.1 422.3,290.1 423.2,298.6 C424.0,307.0 424.9,316.0 425.8,323.4 C426.7,330.9 427.8,338.3 428.4,343.3 C429.1,348.3 429.5,351.6 429.7,353.2" stroke="#74442c" stroke-width="2.34" fill="none"/><path d="M415.6,260.0 C415.8,262.1 416.3,266.5 416.9,273.0 C417.6,279.5 418.8,290.5 419.7,299.0 C420.6,307.5 421.5,316.4 422.4,323.9 C423.3,331.3 424.5,338.8 425.2,343.8 C425.8,348.8 426.3,352.1 426.5,353.7" stroke="#74442c" stroke-width="2.02" fill="none"/><path d="M411.9,260.4 C412.2,262.5 412.7,266.9 413.4,273.4 C414.1,279.9 415.3,290.9 416.2,299.4 C417.2,307.9 418.1,316.8 419.1,324.3 C420.0,331.8 421.2,339.3 421.9,344.3 C422.6,349.3 423.1,352.6 423.3,354.2" stroke="#ead6c2" stroke-width="2.19" fill="none"/><path d="M408.3,260.8 C408.6,263.0 409.1,267.3 409.8,273.8 C410.5,280.3 411.8,291.3 412.7,299.8 C413.7,308.3 414.7,317.3 415.7,324.8 C416.7,332.3 417.9,339.8 418.6,344.8 C419.4,349.8 419.9,353.1 420.1,354.7" stroke="#ead6c2" stroke-width="2.29" fill="none"/><path d="M404.7,261.2 C404.9,263.4 405.4,267.7 406.2,274.2 C407.0,280.7 408.2,291.7 409.3,300.2 C410.3,308.7 411.3,317.7 412.3,325.2 C413.3,332.7 414.6,340.2 415.4,345.2 C416.1,350.2 416.6,353.6 416.9,355.3" stroke="#c6947a" stroke-width="2.20" fill="none"/><path d="M401.1,261.6 C401.3,263.8 401.8,268.1 402.6,274.6 C403.4,281.1 404.7,292.1 405.8,300.6 C406.8,309.1 407.9,318.2 408.9,325.7 C410.0,333.2 411.3,340.7 412.1,345.7 C412.9,350.7 413.4,354.1 413.7,355.8" stroke="#f4ebe2" stroke-width="2.03" fill="none"/><path d="M397.4,262.0 C397.7,264.2 398.2,268.5 399.1,275.0 C399.9,281.5 401.2,292.5 402.3,301.0 C403.4,309.5 404.5,318.6 405.6,326.1 C406.7,333.7 408.0,341.2 408.8,346.2 C409.7,351.2 410.2,354.6 410.5,356.3" stroke="#f4ebe2" stroke-width="2.16" fill="none"/><path d="M393.8,262.5 C394.1,264.6 394.6,268.9 395.5,275.4 C396.3,281.9 397.7,292.9 398.8,301.4 C400.0,310.0 401.1,319.0 402.2,326.6 C403.3,334.1 404.7,341.7 405.6,346.7 C406.4,351.7 407.0,355.1 407.3,356.8" stroke="#f4ebe2" stroke-width="2.11" fill="none"/><path d="M390.2,262.9 C390.5,265.0 391.0,269.4 391.9,275.9 C392.8,282.4 394.2,293.3 395.4,301.8 C396.5,310.4 397.7,319.5 398.8,327.0 C400.0,334.6 401.4,342.2 402.3,347.2 C403.2,352.2 403.8,355.6 404.1,357.3" stroke="#aa6e4c" stroke-width="2.17" fill="none"/><path d="M386.6,263.3 C386.9,265.4 387.4,269.8 388.3,276.3 C389.2,282.8 390.7,293.7 391.9,302.2 C393.1,310.8 394.3,319.9 395.5,327.5 C396.7,335.0 398.2,342.6 399.1,347.7 C399.9,352.7 400.5,356.1 400.8,357.8" stroke="#f4ebe2" stroke-width="2.00" fill="none"/><path d="M425.9,271.9 C426.3,276.3 427.6,289.5 428.4,298.0 C429.2,306.4 430.0,315.3 430.9,322.8 C431.7,330.2 432.9,339.3 433.3,342.6" stroke="#140a06" stroke-width="5" fill="none" opacity="0.75" filter="url(#b1)"/><path d="M390.1,276.1 C390.7,280.4 392.4,293.5 393.6,302.0 C394.8,310.6 396.0,319.7 397.1,327.2 C398.3,334.8 400.1,344.1 400.7,347.4" stroke="#140a06" stroke-width="2.2" fill="none" opacity="0.8"/><path d="M425.9,271.9 C426.3,276.3 427.6,289.5 428.4,298.0 C429.2,306.4 430.0,315.3 430.9,322.8 C431.7,330.2 432.9,339.3 433.3,342.6 L400.7,347.4 C400.1,344.1 398.3,334.8 397.1,327.2 C396.0,319.7 394.8,310.6 393.6,302.0 C392.4,293.5 390.7,280.4 390.1,276.1 Z" fill="#000" opacity="0.12"/></g>
<g transform="translate(408,274) rotate(2)"><ellipse cx="0" cy="0" rx="18" ry="10.5" fill="#141010"/><ellipse cx="15.3" cy="0.0" rx="2.25" ry="1.80" fill="#f4f4f4"/><ellipse cx="14.4" cy="3.1" rx="2.25" ry="1.80" fill="#f4f4f4"/><ellipse cx="11.7" cy="5.7" rx="2.25" ry="1.80" fill="#f4f4f4"/><ellipse cx="7.7" cy="7.7" rx="2.25" ry="1.80" fill="#f4f4f4"/><ellipse cx="2.7" cy="8.8" rx="2.25" ry="1.80" fill="#f4f4f4"/><ellipse cx="-2.7" cy="8.8" rx="2.25" ry="1.80" fill="#f4f4f4"/><ellipse cx="-7.6" cy="7.7" rx="2.25" ry="1.80" fill="#f4f4f4"/><ellipse cx="-11.7" cy="5.7" rx="2.25" ry="1.80" fill="#f4f4f4"/><ellipse cx="-14.4" cy="3.1" rx="2.25" ry="1.80" fill="#f4f4f4"/><ellipse cx="-15.3" cy="0.0" rx="2.25" ry="1.80" fill="#f4f4f4"/><ellipse cx="-14.4" cy="-3.1" rx="2.25" ry="1.80" fill="#f4f4f4"/><ellipse cx="-11.7" cy="-5.7" rx="2.25" ry="1.80" fill="#f4f4f4"/><ellipse cx="-7.7" cy="-7.7" rx="2.25" ry="1.80" fill="#f4f4f4"/><ellipse cx="-2.7" cy="-8.8" rx="2.25" ry="1.80" fill="#f4f4f4"/><ellipse cx="2.7" cy="-8.8" rx="2.25" ry="1.80" fill="#f4f4f4"/><ellipse cx="7.6" cy="-7.7" rx="2.25" ry="1.80" fill="#f4f4f4"/><ellipse cx="11.7" cy="-5.7" rx="2.25" ry="1.80" fill="#f4f4f4"/><ellipse cx="14.4" cy="-3.1" rx="2.25" ry="1.80" fill="#f4f4f4"/><ellipse cx="10.6" cy="1.3" rx="2.2" ry="1.76" fill="#f4f4f4"/><ellipse cx="8.1" cy="4.2" rx="2.2" ry="1.76" fill="#f4f4f4"/><ellipse cx="3.4" cy="6.0" rx="2.2" ry="1.76" fill="#f4f4f4"/><ellipse cx="-2.1" cy="6.2" rx="2.2" ry="1.76" fill="#f4f4f4"/><ellipse cx="-7.2" cy="4.7" rx="2.2" ry="1.76" fill="#f4f4f4"/><ellipse cx="-10.2" cy="2.0" rx="2.2" ry="1.76" fill="#f4f4f4"/><ellipse cx="-10.6" cy="-1.3" rx="2.2" ry="1.76" fill="#f4f4f4"/><ellipse cx="-8.1" cy="-4.2" rx="2.2" ry="1.76" fill="#f4f4f4"/><ellipse cx="-3.4" cy="-6.0" rx="2.2" ry="1.76" fill="#f4f4f4"/><ellipse cx="2.1" cy="-6.2" rx="2.2" ry="1.76" fill="#f4f4f4"/><ellipse cx="7.2" cy="-4.7" rx="2.2" ry="1.76" fill="#f4f4f4"/><ellipse cx="10.2" cy="-2.0" rx="2.2" ry="1.76" fill="#f4f4f4"/><ellipse cx="6.0" cy="1.5" rx="2.1" ry="1.68" fill="#f4f4f4"/><ellipse cx="1.7" cy="3.6" rx="2.1" ry="1.68" fill="#f4f4f4"/><ellipse cx="-3.8" cy="3.1" rx="2.1" ry="1.68" fill="#f4f4f4"/><ellipse cx="-6.5" cy="0.2" rx="2.1" ry="1.68" fill="#f4f4f4"/><ellipse cx="-4.3" cy="-2.8" rx="2.1" ry="1.68" fill="#f4f4f4"/><ellipse cx="1.1" cy="-3.7" rx="2.1" ry="1.68" fill="#f4f4f4"/><ellipse cx="5.7" cy="-1.8" rx="2.1" ry="1.68" fill="#f4f4f4"/><ellipse cx="0" cy="0" rx="2.2" ry="1.7" fill="#f2f2f2" stroke="#111" stroke-width="1.2"/></g>
<path d="M377.6,279.3 C379.6,285.3 385.1,304.1 389.3,315.6 C393.6,327.0 398.4,336.9 403.0,347.8 C407.6,358.6 414.7,375.3 417.0,380.8 L383.0,395.2 C380.6,389.7 373.7,373.4 369.0,362.2 C364.3,351.1 359.1,340.4 354.7,328.4 C350.2,316.5 344.4,297.0 342.4,290.7 Z" fill="#1e120c"/>
<g clip-path="url(#cb4)"><path d="M373.5,260.6 C374.5,263.6 376.4,269.7 379.4,278.7 C382.3,287.8 386.8,303.5 391.1,314.9 C395.3,326.3 400.1,336.2 404.7,347.1 C409.3,357.9 415.2,371.8 418.7,380.1 C422.2,388.3 424.6,393.8 425.7,396.6" stroke="#a86e4c" stroke-width="2.32" fill="none"/><path d="M370.0,261.7 C370.9,264.7 372.9,270.8 375.8,279.9 C378.8,288.9 383.4,304.8 387.6,316.2 C391.9,327.6 396.7,337.6 401.3,348.5 C405.9,359.4 411.8,373.2 415.3,381.5 C418.8,389.7 421.2,395.2 422.3,398.0" stroke="#a86e4c" stroke-width="2.02" fill="none"/><path d="M366.4,262.8 C367.4,265.8 369.4,271.9 372.3,281.0 C375.3,290.1 379.9,306.0 384.1,317.5 C388.4,329.0 393.3,339.0 397.9,349.9 C402.6,360.9 408.4,374.7 411.9,382.9 C415.4,391.2 417.8,396.7 418.9,399.4" stroke="#a86e4c" stroke-width="2.26" fill="none"/><path d="M362.9,263.8 C363.9,266.9 365.8,273.0 368.8,282.1 C371.8,291.3 376.4,307.2 380.7,318.8 C385.0,330.3 389.9,340.5 394.5,351.4 C399.2,362.3 405.0,376.1 408.5,384.4 C412.0,392.6 414.3,398.1 415.5,400.9" stroke="#a86e4c" stroke-width="2.25" fill="none"/><path d="M359.3,264.9 C360.3,268.0 362.3,274.1 365.3,283.3 C368.3,292.5 372.9,308.5 377.2,320.1 C381.5,331.7 386.5,341.9 391.1,352.8 C395.8,363.8 401.6,377.6 405.1,385.8 C408.6,394.1 410.9,399.6 412.1,402.3" stroke="#ead6c2" stroke-width="2.35" fill="none"/><path d="M355.8,266.0 C356.8,269.0 358.8,275.2 361.8,284.4 C364.8,293.7 369.4,309.7 373.7,321.4 C378.1,333.0 383.0,343.3 387.7,354.3 C392.4,365.3 398.2,379.0 401.7,387.3 C405.2,395.5 407.5,401.0 408.7,403.8" stroke="#ead6c2" stroke-width="2.25" fill="none"/><path d="M352.2,267.0 C353.2,270.1 355.2,276.3 358.2,285.6 C361.2,294.8 365.9,311.0 370.3,322.6 C374.6,334.3 379.6,344.7 384.3,355.7 C389.0,366.7 394.8,380.5 398.3,388.7 C401.8,397.0 404.1,402.5 405.3,405.2" stroke="#c6947a" stroke-width="2.13" fill="none"/><path d="M348.7,268.1 C349.7,271.2 351.7,277.4 354.7,286.7 C357.7,296.0 362.4,312.2 366.8,323.9 C371.2,335.7 376.2,346.1 380.9,357.2 C385.6,368.2 391.4,381.9 394.9,390.2 C398.4,398.4 400.7,403.9 401.9,406.7" stroke="#aa6e4c" stroke-width="2.17" fill="none"/><path d="M345.1,269.2 C346.1,272.3 348.2,278.5 351.2,287.9 C354.2,297.2 358.9,313.4 363.3,325.2 C367.7,337.0 372.8,347.5 377.5,358.6 C382.2,369.7 388.0,383.4 391.5,391.6 C395.0,399.9 397.3,405.4 398.5,408.1" stroke="#f4ebe2" stroke-width="2.09" fill="none"/><path d="M341.6,270.2 C342.6,273.4 344.6,279.6 347.7,289.0 C350.7,298.4 355.5,314.7 359.9,326.5 C364.3,338.4 369.4,349.0 374.1,360.1 C378.8,371.1 384.6,384.8 388.1,393.1 C391.6,401.3 393.9,406.8 395.1,409.6" stroke="#f4ebe2" stroke-width="2.24" fill="none"/><path d="M338.0,271.3 C339.1,274.4 341.1,280.7 344.2,290.1 C347.2,299.6 352.0,315.9 356.4,327.8 C360.8,339.7 366.0,350.4 370.7,361.5 C375.4,372.6 381.2,386.3 384.7,394.5 C388.2,402.8 390.5,408.3 391.7,411.0" stroke="#dcb89c" stroke-width="2.09" fill="none"/><path d="M334.5,272.4 C335.5,275.5 337.6,281.8 340.6,291.3 C343.7,300.7 348.5,317.1 352.9,329.1 C357.4,341.0 362.5,351.8 367.3,362.9 C372.0,374.1 377.8,387.7 381.3,395.9 C384.8,404.2 387.1,409.7 388.3,412.4" stroke="#f4ebe2" stroke-width="2.01" fill="none"/><path d="M377.6,279.3 C379.6,285.3 385.1,304.1 389.3,315.6 C393.6,327.0 398.4,336.9 403.0,347.8 C407.6,358.6 414.7,375.3 417.0,380.8" stroke="#140a06" stroke-width="5" fill="none" opacity="0.75" filter="url(#b1)"/><path d="M342.4,290.7 C344.4,297.0 350.2,316.5 354.7,328.4 C359.1,340.4 364.3,351.1 369.0,362.2 C373.7,373.4 380.6,389.7 383.0,395.2" stroke="#140a06" stroke-width="2.2" fill="none" opacity="0.8"/><path d="M377.6,279.3 C379.6,285.3 385.1,304.1 389.3,315.6 C393.6,327.0 398.4,336.9 403.0,347.8 C407.6,358.6 414.7,375.3 417.0,380.8 L383.0,395.2 C380.6,389.7 373.7,373.4 369.0,362.2 C364.3,351.1 359.1,340.4 354.7,328.4 C350.2,316.5 344.4,297.0 342.4,290.7 Z" fill="#000" opacity="0.3"/></g>
<g transform="translate(360,285) rotate(2)"><ellipse cx="0" cy="0" rx="18.5" ry="12" fill="#141010"/><ellipse cx="15.7" cy="0.0" rx="2.25" ry="1.80" fill="#f4f4f4"/><ellipse cx="14.8" cy="3.5" rx="2.25" ry="1.80" fill="#f4f4f4"/><ellipse cx="12.0" cy="6.6" rx="2.25" ry="1.80" fill="#f4f4f4"/><ellipse cx="7.9" cy="8.8" rx="2.25" ry="1.80" fill="#f4f4f4"/><ellipse cx="2.7" cy="10.0" rx="2.25" ry="1.80" fill="#f4f4f4"/><ellipse cx="-2.7" cy="10.0" rx="2.25" ry="1.80" fill="#f4f4f4"/><ellipse cx="-7.9" cy="8.8" rx="2.25" ry="1.80" fill="#f4f4f4"/><ellipse cx="-12.0" cy="6.6" rx="2.25" ry="1.80" fill="#f4f4f4"/><ellipse cx="-14.8" cy="3.5" rx="2.25" ry="1.80" fill="#f4f4f4"/><ellipse cx="-15.7" cy="0.0" rx="2.25" ry="1.80" fill="#f4f4f4"/><ellipse cx="-14.8" cy="-3.5" rx="2.25" ry="1.80" fill="#f4f4f4"/><ellipse cx="-12.0" cy="-6.6" rx="2.25" ry="1.80" fill="#f4f4f4"/><ellipse cx="-7.9" cy="-8.8" rx="2.25" ry="1.80" fill="#f4f4f4"/><ellipse cx="-2.7" cy="-10.0" rx="2.25" ry="1.80" fill="#f4f4f4"/><ellipse cx="2.7" cy="-10.0" rx="2.25" ry="1.80" fill="#f4f4f4"/><ellipse cx="7.9" cy="-8.8" rx="2.25" ry="1.80" fill="#f4f4f4"/><ellipse cx="12.0" cy="-6.6" rx="2.25" ry="1.80" fill="#f4f4f4"/><ellipse cx="14.8" cy="-3.5" rx="2.25" ry="1.80" fill="#f4f4f4"/><ellipse cx="10.9" cy="1.4" rx="2.2" ry="1.76" fill="#f4f4f4"/><ellipse cx="8.3" cy="4.8" rx="2.2" ry="1.76" fill="#f4f4f4"/><ellipse cx="3.5" cy="6.8" rx="2.2" ry="1.76" fill="#f4f4f4"/><ellipse cx="-2.2" cy="7.1" rx="2.2" ry="1.76" fill="#f4f4f4"/><ellipse cx="-7.3" cy="5.4" rx="2.2" ry="1.76" fill="#f4f4f4"/><ellipse cx="-10.5" cy="2.3" rx="2.2" ry="1.76" fill="#f4f4f4"/><ellipse cx="-10.9" cy="-1.4" rx="2.2" ry="1.76" fill="#f4f4f4"/><ellipse cx="-8.3" cy="-4.8" rx="2.2" ry="1.76" fill="#f4f4f4"/><ellipse cx="-3.5" cy="-6.8" rx="2.2" ry="1.76" fill="#f4f4f4"/><ellipse cx="2.2" cy="-7.1" rx="2.2" ry="1.76" fill="#f4f4f4"/><ellipse cx="7.3" cy="-5.4" rx="2.2" ry="1.76" fill="#f4f4f4"/><ellipse cx="10.5" cy="-2.3" rx="2.2" ry="1.76" fill="#f4f4f4"/><ellipse cx="6.1" cy="1.7" rx="2.1" ry="1.68" fill="#f4f4f4"/><ellipse cx="1.8" cy="4.2" rx="2.1" ry="1.68" fill="#f4f4f4"/><ellipse cx="-3.9" cy="3.5" rx="2.1" ry="1.68" fill="#f4f4f4"/><ellipse cx="-6.7" cy="0.2" rx="2.1" ry="1.68" fill="#f4f4f4"/><ellipse cx="-4.4" cy="-3.2" rx="2.1" ry="1.68" fill="#f4f4f4"/><ellipse cx="1.2" cy="-4.3" rx="2.1" ry="1.68" fill="#f4f4f4"/><ellipse cx="5.9" cy="-2.1" rx="2.1" ry="1.68" fill="#f4f4f4"/><ellipse cx="0" cy="0" rx="2.2" ry="1.7" fill="#f2f2f2" stroke="#111" stroke-width="1.2"/></g>
<path d="M393.0,354.0 C393.5,351.0 396.8,353.7 398.0,356.0 C399.2,358.3 400.5,365.0 400.0,368.0 C399.5,371.0 396.2,376.3 395.0,374.0 C393.8,371.7 392.5,357.0 393.0,354.0 Z" fill="#6a3a2a" filter="url(#b05)"/>
<path d="M411.0,300.3 C413.0,305.0 419.4,319.5 423.3,328.2 C427.3,337.0 431.2,344.4 434.6,352.8 C438.0,361.2 442.3,374.3 443.9,378.6 L408.1,391.4 C406.7,387.4 402.7,375.1 399.4,367.2 C396.2,359.2 392.5,352.4 388.7,343.8 C384.8,335.2 378.3,320.4 376.2,315.7 Z" fill="#1e120c"/>
<g clip-path="url(#cb5)"><path d="M406.5,285.6 C407.6,287.9 409.6,292.6 412.7,299.5 C415.8,306.5 421.1,318.7 425.1,327.4 C429.0,336.2 432.9,343.7 436.4,352.1 C439.8,360.5 443.3,371.5 445.7,377.9 C448.0,384.4 449.5,388.7 450.3,390.8" stroke="#d6ae90" stroke-width="2.39" fill="none"/><path d="M403.1,287.1 C404.1,289.4 406.1,294.1 409.2,301.1 C412.3,308.1 417.7,320.2 421.6,329.0 C425.5,337.7 429.4,345.2 432.8,353.5 C436.2,361.9 439.8,372.8 442.1,379.2 C444.4,385.6 445.9,389.9 446.7,392.0" stroke="#a86e4c" stroke-width="2.35" fill="none"/><path d="M399.6,288.7 C400.6,291.0 402.7,295.6 405.8,302.6 C408.9,309.6 414.2,321.8 418.1,330.5 C422.1,339.3 425.9,346.6 429.3,355.0 C432.7,363.3 436.2,374.1 438.5,380.5 C440.8,386.9 442.3,391.1 443.1,393.3" stroke="#d6ae90" stroke-width="2.28" fill="none"/><path d="M396.1,290.2 C397.1,292.5 399.2,297.2 402.3,304.2 C405.4,311.1 410.7,323.4 414.7,332.1 C418.6,340.8 422.4,348.1 425.8,356.4 C429.2,364.7 432.7,375.4 434.9,381.8 C437.2,388.1 438.7,392.4 439.5,394.5" stroke="#74442c" stroke-width="2.29" fill="none"/><path d="M392.6,291.7 C393.7,294.0 395.7,298.7 398.8,305.7 C401.9,312.7 407.3,325.0 411.2,333.7 C415.1,342.4 418.9,349.6 422.3,357.8 C425.6,366.1 429.1,376.8 431.4,383.1 C433.6,389.4 435.1,393.6 435.9,395.7" stroke="#8e5638" stroke-width="2.21" fill="none"/><path d="M389.1,293.2 C390.2,295.6 392.2,300.2 395.3,307.2 C398.4,314.2 403.8,326.5 407.7,335.2 C411.6,343.9 415.4,351.1 418.8,359.3 C422.1,367.5 425.5,378.1 427.8,384.4 C430.0,390.6 431.5,394.8 432.3,396.9" stroke="#ead6c2" stroke-width="2.04" fill="none"/><path d="M385.7,294.8 C386.7,297.1 388.8,301.8 391.9,308.8 C395.0,315.8 400.4,328.1 404.3,336.8 C408.2,345.4 411.9,352.6 415.2,360.7 C418.6,368.9 422.0,379.4 424.2,385.6 C426.5,391.9 428.0,396.0 428.7,398.1" stroke="#ead6c2" stroke-width="2.21" fill="none"/><path d="M382.2,296.3 C383.2,298.6 385.3,303.3 388.4,310.3 C391.5,317.3 396.9,329.7 400.8,338.3 C404.7,347.0 408.4,354.1 411.7,362.2 C415.0,370.3 418.4,380.7 420.6,386.9 C422.9,393.1 424.4,397.3 425.1,399.3" stroke="#dcb89c" stroke-width="2.29" fill="none"/><path d="M378.7,297.8 C379.7,300.2 381.8,304.8 384.9,311.8 C388.0,318.9 393.5,331.3 397.3,339.9 C401.2,348.5 404.9,355.5 408.2,363.6 C411.5,371.6 414.8,382.1 417.1,388.2 C419.3,394.4 420.8,398.5 421.5,400.5" stroke="#f4ebe2" stroke-width="2.09" fill="none"/><path d="M375.2,299.3 C376.3,301.7 378.3,306.4 381.4,313.4 C384.5,320.4 390.0,332.9 393.9,341.5 C397.7,350.1 401.4,357.0 404.7,365.0 C408.0,373.0 411.3,383.4 413.5,389.5 C415.7,395.6 417.2,399.7 417.9,401.7" stroke="#f4ebe2" stroke-width="2.21" fill="none"/><path d="M371.7,300.9 C372.8,303.2 374.9,307.9 378.0,314.9 C381.1,321.9 386.5,334.4 390.4,343.0 C394.3,351.6 397.9,358.5 401.2,366.5 C404.4,374.4 407.7,384.7 409.9,390.8 C412.1,396.9 413.6,400.9 414.3,403.0" stroke="#f4ebe2" stroke-width="2.26" fill="none"/><path d="M368.3,302.4 C369.3,304.7 371.4,309.4 374.5,316.5 C377.6,323.5 383.1,336.0 386.9,344.6 C390.8,353.1 394.4,360.0 397.6,367.9 C400.9,375.8 404.2,386.0 406.3,392.1 C408.5,398.1 410.0,402.2 410.7,404.2" stroke="#f4ebe2" stroke-width="2.33" fill="none"/><path d="M411.0,300.3 C413.0,305.0 419.4,319.5 423.3,328.2 C427.3,337.0 431.2,344.4 434.6,352.8 C438.0,361.2 442.3,374.3 443.9,378.6" stroke="#140a06" stroke-width="5" fill="none" opacity="0.75" filter="url(#b1)"/><path d="M376.2,315.7 C378.3,320.4 384.8,335.2 388.7,343.8 C392.5,352.4 396.2,359.2 399.4,367.2 C402.7,375.1 406.7,387.4 408.1,391.4" stroke="#140a06" stroke-width="2.2" fill="none" opacity="0.8"/></g>
<g transform="translate(393.6,307.6) rotate(3)"><ellipse cx="0" cy="0" rx="19" ry="12.5" fill="#141010"/><ellipse cx="16.1" cy="0.0" rx="2.25" ry="1.80" fill="#f4f4f4"/><ellipse cx="15.2" cy="3.6" rx="2.25" ry="1.80" fill="#f4f4f4"/><ellipse cx="12.4" cy="6.8" rx="2.25" ry="1.80" fill="#f4f4f4"/><ellipse cx="8.1" cy="9.2" rx="2.25" ry="1.80" fill="#f4f4f4"/><ellipse cx="2.8" cy="10.5" rx="2.25" ry="1.80" fill="#f4f4f4"/><ellipse cx="-2.8" cy="10.5" rx="2.25" ry="1.80" fill="#f4f4f4"/><ellipse cx="-8.1" cy="9.2" rx="2.25" ry="1.80" fill="#f4f4f4"/><ellipse cx="-12.4" cy="6.8" rx="2.25" ry="1.80" fill="#f4f4f4"/><ellipse cx="-15.2" cy="3.6" rx="2.25" ry="1.80" fill="#f4f4f4"/><ellipse cx="-16.1" cy="0.0" rx="2.25" ry="1.80" fill="#f4f4f4"/><ellipse cx="-15.2" cy="-3.6" rx="2.25" ry="1.80" fill="#f4f4f4"/><ellipse cx="-12.4" cy="-6.8" rx="2.25" ry="1.80" fill="#f4f4f4"/><ellipse cx="-8.1" cy="-9.2" rx="2.25" ry="1.80" fill="#f4f4f4"/><ellipse cx="-2.8" cy="-10.5" rx="2.25" ry="1.80" fill="#f4f4f4"/><ellipse cx="2.8" cy="-10.5" rx="2.25" ry="1.80" fill="#f4f4f4"/><ellipse cx="8.1" cy="-9.2" rx="2.25" ry="1.80" fill="#f4f4f4"/><ellipse cx="12.4" cy="-6.8" rx="2.25" ry="1.80" fill="#f4f4f4"/><ellipse cx="15.2" cy="-3.6" rx="2.25" ry="1.80" fill="#f4f4f4"/><ellipse cx="11.2" cy="1.5" rx="2.2" ry="1.76" fill="#f4f4f4"/><ellipse cx="8.5" cy="5.0" rx="2.2" ry="1.76" fill="#f4f4f4"/><ellipse cx="3.6" cy="7.1" rx="2.2" ry="1.76" fill="#f4f4f4"/><ellipse cx="-2.3" cy="7.4" rx="2.2" ry="1.76" fill="#f4f4f4"/><ellipse cx="-7.5" cy="5.6" rx="2.2" ry="1.76" fill="#f4f4f4"/><ellipse cx="-10.8" cy="2.4" rx="2.2" ry="1.76" fill="#f4f4f4"/><ellipse cx="-11.2" cy="-1.5" rx="2.2" ry="1.76" fill="#f4f4f4"/><ellipse cx="-8.5" cy="-5.0" rx="2.2" ry="1.76" fill="#f4f4f4"/><ellipse cx="-3.6" cy="-7.1" rx="2.2" ry="1.76" fill="#f4f4f4"/><ellipse cx="2.3" cy="-7.4" rx="2.2" ry="1.76" fill="#f4f4f4"/><ellipse cx="7.5" cy="-5.6" rx="2.2" ry="1.76" fill="#f4f4f4"/><ellipse cx="10.8" cy="-2.4" rx="2.2" ry="1.76" fill="#f4f4f4"/><ellipse cx="6.3" cy="1.8" rx="2.1" ry="1.68" fill="#f4f4f4"/><ellipse cx="1.8" cy="4.3" rx="2.1" ry="1.68" fill="#f4f4f4"/><ellipse cx="-4.0" cy="3.7" rx="2.1" ry="1.68" fill="#f4f4f4"/><ellipse cx="-6.8" cy="0.2" rx="2.1" ry="1.68" fill="#f4f4f4"/><ellipse cx="-4.5" cy="-3.4" rx="2.1" ry="1.68" fill="#f4f4f4"/><ellipse cx="1.2" cy="-4.4" rx="2.1" ry="1.68" fill="#f4f4f4"/><ellipse cx="6.0" cy="-2.1" rx="2.1" ry="1.68" fill="#f4f4f4"/><ellipse cx="0" cy="0" rx="2.2" ry="1.7" fill="#f2f2f2" stroke="#111" stroke-width="1.2"/></g>
<path d="M398.0,372.0 C400.3,373.3 407.5,378.3 412.0,380.0 C416.5,381.7 421.2,382.3 425.0,382.0 C428.8,381.7 432.3,379.8 435.0,378.0 C437.7,376.2 439.2,372.8 441.0,371.0 C442.8,369.2 444.3,366.7 446.0,367.0 C447.7,367.3 449.5,369.5 451.0,373.0 C452.5,376.5 454.2,382.2 455.0,388.0 C455.8,393.8 456.0,401.0 456.0,408.0 C456.0,415.0 455.7,423.3 455.0,430.0 C454.3,436.7 452.5,445.0 452.0,448.0 L430.0,450.0 C425.0,445.0 406.7,428.3 400.0,420.0 C393.3,411.7 391.7,403.3 390.0,400.0 Z" fill="url(#gBlack)"/>
<path d="M400.0,374.0 C402.0,375.0 407.8,378.7 412.0,380.0 C416.2,381.3 421.0,382.3 425.0,382.0 C429.0,381.7 433.0,380.0 436.0,378.0 C439.0,376.0 441.8,371.3 443.0,370.0" stroke="#30323a" stroke-width="2" fill="none"/>
<path d="M311.0,364.0 C311.8,368.7 314.5,382.7 316.0,392.0 C317.5,401.3 317.8,410.3 320.0,420.0 C322.2,429.7 325.5,441.0 329.0,450.0 C332.5,459.0 336.3,465.8 341.0,474.0 C345.7,482.2 350.5,491.0 357.0,499.0 C363.5,507.0 373.3,515.5 380.0,522.0 C386.7,528.5 392.0,533.3 397.0,538.0 C402.0,542.7 407.8,548.0 410.0,550.0 L450.0,552.0 C448.3,548.5 444.2,536.3 440.0,531.0 C435.8,525.7 431.3,524.5 425.0,520.0 C418.7,515.5 409.5,510.0 402.0,504.0 C394.5,498.0 386.7,490.5 380.0,484.0 C373.3,477.5 367.5,472.0 362.0,465.0 C356.5,458.0 351.8,449.5 347.0,442.0 C342.2,434.5 337.0,427.3 333.0,420.0 C329.0,412.7 326.0,405.0 323.0,398.0 C320.0,391.0 316.3,381.3 315.0,378.0 Z" fill="#46a63c"/>
<g clip-path="url(#cGreen)"><path d="M330.0,400.0 C332.5,406.7 339.2,428.0 345.0,440.0 C350.8,452.0 356.7,461.2 365.0,472.0 C373.3,482.8 384.2,494.5 395.0,505.0 C405.8,515.5 424.2,530.0 430.0,535.0" stroke="#2a7a26" stroke-width="12" fill="none" filter="url(#b3)"/><path d="M316.0,390.0 C317.5,396.7 321.0,418.0 325.0,430.0 C329.0,442.0 334.2,451.7 340.0,462.0 C345.8,472.3 352.0,482.0 360.0,492.0 C368.0,502.0 383.3,517.0 388.0,522.0" stroke="#8cd67a" stroke-width="7" fill="none" filter="url(#b2)"/><path d="M312.0,370.0 C313.0,375.8 315.5,392.0 318.0,405.0 C320.5,418.0 323.3,436.5 327.0,448.0 C330.7,459.5 335.0,465.3 340.0,474.0 C345.0,482.7 350.3,491.8 357.0,500.0 C363.7,508.2 376.2,519.2 380.0,523.0" stroke="#2e7e2a" stroke-width="2" fill="none" filter="url(#b05)"/></g>
<path d="M329.5,293.3 C331.9,302.0 339.3,329.4 343.8,345.2 C348.4,360.9 353.8,377.7 356.8,388.1 C359.8,398.5 361.1,404.3 361.9,407.5 L328.1,416.5 C327.3,413.4 326.2,408.1 323.2,397.9 C320.2,387.6 314.8,370.7 310.2,354.8 C305.6,339.0 298.1,311.4 295.7,302.7 Z" fill="#1e120c"/>
<g clip-path="url(#cb6)"><path d="M324.0,267.0 C325.2,271.3 327.6,279.9 331.2,292.9 C334.7,305.8 340.9,328.9 345.5,344.7 C350.1,360.5 355.5,377.2 358.5,387.6 C361.5,398.0 362.3,402.2 363.6,407.1 C364.9,412.0 365.8,415.2 366.2,416.8" stroke="#d6ae90" stroke-width="2.34" fill="none"/><path d="M320.6,267.9 C321.8,272.2 324.2,280.8 327.8,293.8 C331.4,306.8 337.6,329.8 342.1,345.6 C346.7,361.4 352.1,378.2 355.1,388.6 C358.1,399.0 359.0,403.1 360.2,408.0 C361.5,412.8 362.4,416.1 362.8,417.7" stroke="#d6ae90" stroke-width="2.05" fill="none"/><path d="M317.2,268.8 C318.4,273.1 320.8,281.8 324.4,294.7 C328.0,307.7 334.2,330.8 338.8,346.6 C343.3,362.4 348.8,379.2 351.8,389.6 C354.8,400.0 355.6,404.1 356.8,408.9 C358.1,413.7 359.0,416.9 359.4,418.5" stroke="#a86e4c" stroke-width="2.28" fill="none"/><path d="M313.8,269.7 C315.0,274.0 317.4,282.7 321.0,295.7 C324.6,308.6 330.8,331.8 335.4,347.6 C340.0,363.4 345.4,380.2 348.4,390.6 C351.4,400.9 352.2,405.0 353.5,409.8 C354.7,414.6 355.6,417.8 356.0,419.4" stroke="#d6ae90" stroke-width="2.12" fill="none"/><path d="M310.5,270.6 C311.7,275.0 314.1,283.6 317.7,296.6 C321.3,309.6 327.5,332.7 332.0,348.5 C336.6,364.4 342.0,381.2 345.0,391.5 C348.0,401.9 348.8,405.9 350.1,410.7 C351.3,415.4 352.2,418.6 352.6,420.2" stroke="#ead6c2" stroke-width="2.40" fill="none"/><path d="M307.1,271.5 C308.3,275.9 310.7,284.5 314.3,297.5 C317.9,310.5 324.1,333.7 328.7,349.5 C333.2,365.3 338.7,382.2 341.7,392.5 C344.7,402.9 345.4,406.8 346.7,411.6 C347.9,416.3 348.8,419.5 349.2,421.1" stroke="#c6947a" stroke-width="2.21" fill="none"/><path d="M303.7,272.5 C304.9,276.8 307.3,285.5 310.9,298.5 C314.5,311.5 320.8,334.6 325.3,350.5 C329.9,366.3 335.3,383.2 338.3,393.5 C341.3,403.8 342.1,407.7 343.3,412.4 C344.6,417.2 345.4,420.3 345.8,421.9" stroke="#ead6c2" stroke-width="2.22" fill="none"/><path d="M300.3,273.4 C301.5,277.7 303.9,286.4 307.5,299.4 C311.1,312.4 317.4,335.6 322.0,351.5 C326.5,367.3 332.0,384.2 335.0,394.5 C338.0,404.8 338.7,408.6 339.9,413.3 C341.2,418.1 342.0,421.2 342.4,422.8" stroke="#f4ebe2" stroke-width="2.22" fill="none"/><path d="M297.0,274.3 C298.2,278.6 300.6,287.3 304.2,300.3 C307.8,313.4 314.0,336.6 318.6,352.4 C323.2,368.3 328.6,385.1 331.6,395.4 C334.6,405.7 335.3,409.5 336.5,414.2 C337.8,418.9 338.6,422.1 339.0,423.6" stroke="#f4ebe2" stroke-width="2.35" fill="none"/><path d="M293.6,275.2 C294.8,279.6 297.2,288.2 300.8,301.3 C304.4,314.3 310.7,337.5 315.2,353.4 C319.8,369.3 325.2,386.1 328.2,396.4 C331.2,406.7 331.9,410.4 333.2,415.1 C334.4,419.8 335.2,422.9 335.6,424.5" stroke="#f4ebe2" stroke-width="2.03" fill="none"/><path d="M290.2,276.1 C291.4,280.5 293.8,289.2 297.4,302.2 C301.0,315.2 307.3,338.5 311.9,354.4 C316.4,370.2 321.9,387.1 324.9,397.4 C327.9,407.7 328.5,411.4 329.8,416.0 C331.0,420.7 331.8,423.8 332.2,425.3" stroke="#aa6e4c" stroke-width="2.26" fill="none"/><path d="M286.8,277.0 C288.0,281.4 290.4,290.1 294.0,303.1 C297.7,316.2 303.9,339.5 308.5,355.3 C313.1,371.2 318.5,388.1 321.5,398.4 C324.5,408.6 325.2,412.3 326.4,416.9 C327.6,421.5 328.4,424.6 328.8,426.2" stroke="#f4ebe2" stroke-width="2.28" fill="none"/><path d="M329.5,293.3 C331.9,302.0 339.3,329.4 343.8,345.2 C348.4,360.9 353.8,377.7 356.8,388.1 C359.8,398.5 361.1,404.3 361.9,407.5" stroke="#140a06" stroke-width="5" fill="none" opacity="0.75" filter="url(#b1)"/><path d="M295.7,302.7 C298.1,311.4 305.6,339.0 310.2,354.8 C314.8,370.7 320.2,387.6 323.2,397.9 C326.2,408.1 327.3,413.4 328.1,416.5" stroke="#140a06" stroke-width="2.2" fill="none" opacity="0.8"/></g>
<g transform="translate(312.6,297.5) rotate(5)"><ellipse cx="0" cy="0" rx="17.5" ry="11" fill="#141010"/><ellipse cx="14.9" cy="0.0" rx="2.25" ry="1.80" fill="#f4f4f4"/><ellipse cx="14.0" cy="3.2" rx="2.25" ry="1.80" fill="#f4f4f4"/><ellipse cx="11.4" cy="6.0" rx="2.25" ry="1.80" fill="#f4f4f4"/><ellipse cx="7.4" cy="8.1" rx="2.25" ry="1.80" fill="#f4f4f4"/><ellipse cx="2.6" cy="9.2" rx="2.25" ry="1.80" fill="#f4f4f4"/><ellipse cx="-2.6" cy="9.2" rx="2.25" ry="1.80" fill="#f4f4f4"/><ellipse cx="-7.4" cy="8.1" rx="2.25" ry="1.80" fill="#f4f4f4"/><ellipse cx="-11.4" cy="6.0" rx="2.25" ry="1.80" fill="#f4f4f4"/><ellipse cx="-14.0" cy="3.2" rx="2.25" ry="1.80" fill="#f4f4f4"/><ellipse cx="-14.9" cy="0.0" rx="2.25" ry="1.80" fill="#f4f4f4"/><ellipse cx="-14.0" cy="-3.2" rx="2.25" ry="1.80" fill="#f4f4f4"/><ellipse cx="-11.4" cy="-6.0" rx="2.25" ry="1.80" fill="#f4f4f4"/><ellipse cx="-7.4" cy="-8.1" rx="2.25" ry="1.80" fill="#f4f4f4"/><ellipse cx="-2.6" cy="-9.2" rx="2.25" ry="1.80" fill="#f4f4f4"/><ellipse cx="2.6" cy="-9.2" rx="2.25" ry="1.80" fill="#f4f4f4"/><ellipse cx="7.4" cy="-8.1" rx="2.25" ry="1.80" fill="#f4f4f4"/><ellipse cx="11.4" cy="-6.0" rx="2.25" ry="1.80" fill="#f4f4f4"/><ellipse cx="14.0" cy="-3.2" rx="2.25" ry="1.80" fill="#f4f4f4"/><ellipse cx="10.3" cy="1.3" rx="2.2" ry="1.76" fill="#f4f4f4"/><ellipse cx="7.9" cy="4.4" rx="2.2" ry="1.76" fill="#f4f4f4"/><ellipse cx="3.3" cy="6.3" rx="2.2" ry="1.76" fill="#f4f4f4"/><ellipse cx="-2.1" cy="6.5" rx="2.2" ry="1.76" fill="#f4f4f4"/><ellipse cx="-7.0" cy="4.9" rx="2.2" ry="1.76" fill="#f4f4f4"/><ellipse cx="-10.0" cy="2.1" rx="2.2" ry="1.76" fill="#f4f4f4"/><ellipse cx="-10.3" cy="-1.3" rx="2.2" ry="1.76" fill="#f4f4f4"/><ellipse cx="-7.9" cy="-4.4" rx="2.2" ry="1.76" fill="#f4f4f4"/><ellipse cx="-3.3" cy="-6.3" rx="2.2" ry="1.76" fill="#f4f4f4"/><ellipse cx="2.1" cy="-6.5" rx="2.2" ry="1.76" fill="#f4f4f4"/><ellipse cx="7.0" cy="-4.9" rx="2.2" ry="1.76" fill="#f4f4f4"/><ellipse cx="10.0" cy="-2.1" rx="2.2" ry="1.76" fill="#f4f4f4"/><ellipse cx="5.8" cy="1.5" rx="2.1" ry="1.68" fill="#f4f4f4"/><ellipse cx="1.7" cy="3.8" rx="2.1" ry="1.68" fill="#f4f4f4"/><ellipse cx="-3.7" cy="3.2" rx="2.1" ry="1.68" fill="#f4f4f4"/><ellipse cx="-6.3" cy="0.2" rx="2.1" ry="1.68" fill="#f4f4f4"/><ellipse cx="-4.2" cy="-3.0" rx="2.1" ry="1.68" fill="#f4f4f4"/><ellipse cx="1.1" cy="-3.9" rx="2.1" ry="1.68" fill="#f4f4f4"/><ellipse cx="5.5" cy="-1.9" rx="2.1" ry="1.68" fill="#f4f4f4"/><ellipse cx="0" cy="0" rx="2.2" ry="1.7" fill="#f2f2f2" stroke="#111" stroke-width="1.2"/></g>
<path d="M362.1,311.8 C364.0,316.6 369.2,331.0 373.7,340.9 C378.3,350.7 383.7,360.3 389.3,371.0 C394.9,381.6 404.2,399.2 407.2,404.9 L372.8,423.1 C369.8,417.4 360.5,400.0 354.7,389.0 C349.0,378.0 343.1,367.6 338.3,357.1 C333.5,346.7 328.0,331.4 325.9,326.2 Z" fill="#1e120c"/>
<g clip-path="url(#cb7)"><path d="M358.1,296.5 C359.1,298.9 361.0,303.8 363.9,311.0 C366.8,318.3 371.0,330.2 375.5,340.1 C380.0,349.9 385.4,359.4 391.0,370.1 C396.6,380.7 404.5,395.5 409.0,404.0 C413.4,412.4 416.4,418.1 417.9,420.9" stroke="#74442c" stroke-width="2.10" fill="none"/><path d="M354.8,297.8 C355.7,300.2 357.7,305.1 360.6,312.4 C363.5,319.7 367.7,331.7 372.2,341.5 C376.8,351.4 382.2,361.0 387.8,371.7 C393.4,382.4 401.3,397.2 405.8,405.6 C410.3,414.1 413.3,419.8 414.8,422.6" stroke="#a86e4c" stroke-width="2.38" fill="none"/><path d="M351.4,299.0 C352.4,301.5 354.3,306.4 357.3,313.7 C360.2,321.0 364.4,333.1 369.0,343.0 C373.6,353.0 379.1,362.7 384.7,373.4 C390.3,384.1 398.1,398.8 402.6,407.3 C407.1,415.8 410.1,421.4 411.6,424.3" stroke="#a86e4c" stroke-width="2.39" fill="none"/><path d="M348.1,300.3 C349.0,302.7 351.0,307.6 354.0,315.0 C356.9,322.4 361.2,334.5 365.7,344.5 C370.3,354.5 375.9,364.3 381.5,375.0 C387.1,385.8 395.0,400.5 399.5,409.0 C404.0,417.5 407.0,423.1 408.5,426.0" stroke="#a86e4c" stroke-width="2.09" fill="none"/><path d="M344.7,301.5 C345.7,304.0 347.7,308.9 350.6,316.3 C353.6,323.8 357.9,336.0 362.5,346.0 C367.1,356.1 372.7,365.9 378.3,376.7 C384.0,387.5 391.8,402.2 396.3,410.7 C400.8,419.1 403.8,424.8 405.3,427.6" stroke="#8e5638" stroke-width="2.34" fill="none"/><path d="M341.4,302.8 C342.3,305.2 344.3,310.2 347.3,317.7 C350.3,325.1 354.6,337.4 359.2,347.5 C363.9,357.6 369.5,367.5 375.2,378.3 C380.8,389.1 388.7,403.8 393.2,412.3 C397.7,420.8 400.7,426.5 402.2,429.3" stroke="#8e5638" stroke-width="2.17" fill="none"/><path d="M338.0,304.0 C339.0,306.5 341.0,311.5 344.0,319.0 C347.0,326.5 351.3,338.8 356.0,349.0 C360.7,359.2 366.3,369.2 372.0,380.0 C377.7,390.8 385.5,405.5 390.0,414.0 C394.5,422.5 397.5,428.2 399.0,431.0" stroke="#c6947a" stroke-width="2.23" fill="none"/><path d="M334.6,305.2 C335.7,307.8 337.7,312.8 340.7,320.3 C343.7,327.9 348.1,340.3 352.8,350.5 C357.4,360.7 363.2,370.8 368.8,381.7 C374.5,392.5 382.3,407.2 386.8,415.7 C391.3,424.2 394.3,429.8 395.8,432.7" stroke="#8e5638" stroke-width="2.27" fill="none"/><path d="M331.3,306.5 C332.3,309.0 334.3,314.1 337.4,321.7 C340.4,329.2 344.8,341.7 349.5,352.0 C354.2,362.3 360.0,372.4 365.7,383.3 C371.4,394.2 379.2,408.8 383.7,417.3 C388.2,425.9 391.2,431.5 392.7,434.4" stroke="#f4ebe2" stroke-width="2.16" fill="none"/><path d="M327.9,307.7 C329.0,310.3 331.0,315.4 334.0,323.0 C337.1,330.6 341.5,343.1 346.3,353.5 C351.0,363.8 356.8,374.0 362.5,385.0 C368.2,395.9 376.0,410.5 380.5,419.0 C385.0,427.5 388.0,433.2 389.5,436.0" stroke="#aa6e4c" stroke-width="2.07" fill="none"/><path d="M324.6,309.0 C325.6,311.5 327.7,316.6 330.7,324.3 C333.8,332.0 338.2,344.6 343.0,355.0 C347.8,365.4 353.6,375.7 359.3,386.6 C365.1,397.6 372.9,412.2 377.4,420.7 C381.9,429.2 384.9,434.9 386.4,437.7" stroke="#f4ebe2" stroke-width="2.19" fill="none"/><path d="M321.2,310.2 C322.3,312.8 324.3,317.9 327.4,325.6 C330.5,333.3 335.0,346.0 339.8,356.5 C344.5,366.9 350.4,377.3 356.2,388.3 C361.9,399.3 369.7,413.8 374.2,422.4 C378.7,430.9 381.7,436.6 383.2,439.4" stroke="#dcb89c" stroke-width="2.38" fill="none"/><path d="M317.9,311.5 C318.9,314.1 321.0,319.2 324.1,327.0 C327.2,334.7 331.7,347.5 336.5,357.9 C341.3,368.4 347.2,378.9 353.0,389.9 C358.7,401.0 366.5,415.5 371.0,424.0 C375.6,432.6 378.6,438.2 380.1,441.1" stroke="#f4ebe2" stroke-width="2.34" fill="none"/><path d="M362.1,311.8 C364.0,316.6 369.2,331.0 373.7,340.9 C378.3,350.7 383.7,360.3 389.3,371.0 C394.9,381.6 404.2,399.2 407.2,404.9" stroke="#140a06" stroke-width="5" fill="none" opacity="0.75" filter="url(#b1)"/><path d="M325.9,326.2 C328.0,331.4 333.5,346.7 338.3,357.1 C343.1,367.6 349.0,378.0 354.7,389.0 C360.5,400.0 369.8,417.4 372.8,423.1" stroke="#140a06" stroke-width="2.2" fill="none" opacity="0.8"/></g>
<g transform="translate(344,319) rotate(4)"><ellipse cx="0" cy="0" rx="18.5" ry="12" fill="#141010"/><ellipse cx="15.7" cy="0.0" rx="2.25" ry="1.80" fill="#f4f4f4"/><ellipse cx="14.8" cy="3.5" rx="2.25" ry="1.80" fill="#f4f4f4"/><ellipse cx="12.0" cy="6.6" rx="2.25" ry="1.80" fill="#f4f4f4"/><ellipse cx="7.9" cy="8.8" rx="2.25" ry="1.80" fill="#f4f4f4"/><ellipse cx="2.7" cy="10.0" rx="2.25" ry="1.80" fill="#f4f4f4"/><ellipse cx="-2.7" cy="10.0" rx="2.25" ry="1.80" fill="#f4f4f4"/><ellipse cx="-7.9" cy="8.8" rx="2.25" ry="1.80" fill="#f4f4f4"/><ellipse cx="-12.0" cy="6.6" rx="2.25" ry="1.80" fill="#f4f4f4"/><ellipse cx="-14.8" cy="3.5" rx="2.25" ry="1.80" fill="#f4f4f4"/><ellipse cx="-15.7" cy="0.0" rx="2.25" ry="1.80" fill="#f4f4f4"/><ellipse cx="-14.8" cy="-3.5" rx="2.25" ry="1.80" fill="#f4f4f4"/><ellipse cx="-12.0" cy="-6.6" rx="2.25" ry="1.80" fill="#f4f4f4"/><ellipse cx="-7.9" cy="-8.8" rx="2.25" ry="1.80" fill="#f4f4f4"/><ellipse cx="-2.7" cy="-10.0" rx="2.25" ry="1.80" fill="#f4f4f4"/><ellipse cx="2.7" cy="-10.0" rx="2.25" ry="1.80" fill="#f4f4f4"/><ellipse cx="7.9" cy="-8.8" rx="2.25" ry="1.80" fill="#f4f4f4"/><ellipse cx="12.0" cy="-6.6" rx="2.25" ry="1.80" fill="#f4f4f4"/><ellipse cx="14.8" cy="-3.5" rx="2.25" ry="1.80" fill="#f4f4f4"/><ellipse cx="10.9" cy="1.4" rx="2.2" ry="1.76" fill="#f4f4f4"/><ellipse cx="8.3" cy="4.8" rx="2.2" ry="1.76" fill="#f4f4f4"/><ellipse cx="3.5" cy="6.8" rx="2.2" ry="1.76" fill="#f4f4f4"/><ellipse cx="-2.2" cy="7.1" rx="2.2" ry="1.76" fill="#f4f4f4"/><ellipse cx="-7.3" cy="5.4" rx="2.2" ry="1.76" fill="#f4f4f4"/><ellipse cx="-10.5" cy="2.3" rx="2.2" ry="1.76" fill="#f4f4f4"/><ellipse cx="-10.9" cy="-1.4" rx="2.2" ry="1.76" fill="#f4f4f4"/><ellipse cx="-8.3" cy="-4.8" rx="2.2" ry="1.76" fill="#f4f4f4"/><ellipse cx="-3.5" cy="-6.8" rx="2.2" ry="1.76" fill="#f4f4f4"/><ellipse cx="2.2" cy="-7.1" rx="2.2" ry="1.76" fill="#f4f4f4"/><ellipse cx="7.3" cy="-5.4" rx="2.2" ry="1.76" fill="#f4f4f4"/><ellipse cx="10.5" cy="-2.3" rx="2.2" ry="1.76" fill="#f4f4f4"/><ellipse cx="6.1" cy="1.7" rx="2.1" ry="1.68" fill="#f4f4f4"/><ellipse cx="1.8" cy="4.2" rx="2.1" ry="1.68" fill="#f4f4f4"/><ellipse cx="-3.9" cy="3.5" rx="2.1" ry="1.68" fill="#f4f4f4"/><ellipse cx="-6.7" cy="0.2" rx="2.1" ry="1.68" fill="#f4f4f4"/><ellipse cx="-4.4" cy="-3.2" rx="2.1" ry="1.68" fill="#f4f4f4"/><ellipse cx="1.2" cy="-4.3" rx="2.1" ry="1.68" fill="#f4f4f4"/><ellipse cx="5.9" cy="-2.1" rx="2.1" ry="1.68" fill="#f4f4f4"/><ellipse cx="0" cy="0" rx="2.2" ry="1.7" fill="#f2f2f2" stroke="#111" stroke-width="1.2"/></g>
<path d="M367.0,401.0 C368.7,402.3 373.5,407.3 377.0,409.0 C380.5,410.7 384.3,411.5 388.0,411.0 C391.7,410.5 395.7,408.5 399.0,406.0 C402.3,403.5 406.5,397.7 408.0,396.0 L420.0,403.0 C422.8,405.3 431.7,411.2 437.0,417.0 C442.3,422.8 446.8,431.7 452.0,438.0 C457.2,444.3 463.8,449.0 468.0,455.0 C472.2,461.0 475.3,467.8 477.0,474.0 C478.7,480.2 479.5,486.7 478.0,492.0 C476.5,497.3 469.7,503.7 468.0,506.0 L456.0,497.0 C453.3,494.3 446.7,486.7 440.0,481.0 C433.3,475.3 422.0,468.0 416.0,463.0 C410.0,458.0 408.8,455.5 404.0,451.0 C399.2,446.5 392.7,442.3 387.0,436.0 C381.3,429.7 373.3,418.8 370.0,413.0 C366.7,407.2 367.5,403.0 367.0,401.0 Z" fill="#4242d4"/>
<g clip-path="url(#cBlue)"><path d="M366.0,410.0 C369.7,415.3 380.2,432.0 388.0,442.0 C395.8,452.0 403.8,461.3 413.0,470.0 C422.2,478.7 433.8,487.8 443.0,494.0 C452.2,500.2 463.8,504.8 468.0,507.0" stroke="#28248a" stroke-width="12" fill="none" filter="url(#b3)"/><path d="M412.0,408.0 C416.3,412.7 430.3,427.3 438.0,436.0 C445.7,444.7 452.3,451.8 458.0,460.0 C463.7,468.2 469.7,480.8 472.0,485.0" stroke="#7a82f4" stroke-width="16" fill="none" filter="url(#b3)"/><path d="M418.0,412.0 C422.0,416.3 435.0,429.7 442.0,438.0 C449.0,446.3 455.3,455.3 460.0,462.0 C464.7,468.7 468.3,475.3 470.0,478.0" stroke="#c4c8ff" stroke-width="3" fill="none" filter="url(#b1)"/><path d="M430.0,410.0 C434.2,415.0 447.5,430.0 455.0,440.0 C462.5,450.0 470.8,460.8 475.0,470.0 C479.2,479.2 479.2,490.8 480.0,495.0" stroke="#20207a" stroke-width="4" fill="none" filter="url(#b1)"/><path d="M440.0,480.0 C443.7,483.3 456.0,497.0 462.0,500.0 C468.0,503.0 473.7,498.3 476.0,498.0" stroke="#10103a" stroke-width="12" fill="none" filter="url(#b3)"/></g>
<path d="M367.0,402.0 C370.5,403.6 381.2,412.5 388.0,411.5 C394.8,410.5 404.7,398.6 408.0,396.0" stroke="#2a2aa8" stroke-width="2.4" fill="none"/>
<path d="M323.0,398.0 C324.5,399.3 328.8,404.2 332.0,406.0 C335.2,407.8 338.5,409.0 342.0,409.0 C345.5,409.0 349.7,407.8 353.0,406.0 C356.3,404.2 360.5,399.3 362.0,398.0 L370.0,412.0 C372.8,415.8 381.3,428.7 387.0,435.0 C392.7,441.3 399.2,445.5 404.0,450.0 C408.8,454.5 410.0,457.0 416.0,462.0 C422.0,467.0 433.3,474.3 440.0,480.0 C446.7,485.7 451.7,491.7 456.0,496.0 C460.3,500.3 464.0,502.7 466.0,506.0 C468.0,509.3 469.3,512.7 468.0,516.0 C466.7,519.3 459.7,524.3 458.0,526.0 L448.0,531.0 C446.7,531.0 443.8,532.8 440.0,531.0 C436.2,529.2 431.3,524.5 425.0,520.0 C418.7,515.5 409.5,510.0 402.0,504.0 C394.5,498.0 386.7,490.5 380.0,484.0 C373.3,477.5 367.5,472.0 362.0,465.0 C356.5,458.0 351.8,449.5 347.0,442.0 C342.2,434.5 337.0,427.3 333.0,420.0 C329.0,412.7 324.7,401.7 323.0,398.0 Z" fill="#c83c3e"/>
<g clip-path="url(#cRed)"><path d="M372.0,414.0 C375.3,418.7 384.8,433.3 392.0,442.0 C399.2,450.7 406.2,458.3 415.0,466.0 C423.8,473.7 435.8,481.5 445.0,488.0 C454.2,494.5 465.8,502.2 470.0,505.0" stroke="#7e1a22" stroke-width="12" fill="none" filter="url(#b3)"/><path d="M345.0,412.0 C347.8,416.7 355.3,430.7 362.0,440.0 C368.7,449.3 376.7,459.3 385.0,468.0 C393.3,476.7 402.0,484.2 412.0,492.0 C422.0,499.8 439.5,511.2 445.0,515.0" stroke="#f29090" stroke-width="8" fill="none" filter="url(#b2)"/><path d="M326.0,402.0 C328.0,406.3 333.2,419.2 338.0,428.0 C342.8,436.8 348.3,446.3 355.0,455.0 C361.7,463.7 369.7,472.0 378.0,480.0 C386.3,488.0 394.7,495.0 405.0,503.0 C415.3,511.0 434.2,523.8 440.0,528.0" stroke="#a8282e" stroke-width="3" fill="none" filter="url(#b1)"/><path d="M420.0,522.0 C424.7,523.0 440.7,529.0 448.0,528.0 C455.3,527.0 461.3,518.0 464.0,516.0" stroke="#ea7474" stroke-width="4" fill="none" filter="url(#b2)"/></g>
<path d="M324.0,399.0 C327.0,400.7 335.7,409.2 342.0,409.0 C348.3,408.8 358.7,399.8 362.0,398.0" stroke="#a82a2e" stroke-width="2.2" fill="none"/>
<path d="M345.0,490.0 C345.2,491.7 343.6,488.3 346.0,500.0 C348.4,511.7 356.6,547.5 359.5,560.0 C362.4,572.5 361.3,570.3 363.4,574.9 C365.5,579.5 368.5,583.9 372.1,587.6 C375.7,591.3 380.1,594.7 384.8,597.3 C389.6,599.9 395.0,601.9 400.6,603.2 C406.2,604.5 412.5,605.1 418.7,605.0 C424.9,604.9 431.4,604.0 437.6,602.5 C443.8,601.0 450.2,598.7 456.1,595.9 C462.0,593.1 467.9,589.6 473.0,585.7 C478.1,581.8 482.9,577.4 487.0,572.6 C491.1,567.9 495.7,559.8 497.4,557.2 L498.0,545.0 C497.7,541.2 497.3,529.5 496.0,522.0 C494.7,514.5 491.7,506.0 490.0,500.0 C488.3,494.0 486.7,488.3 486.0,486.0 L486.3,486.1 C485.4,488.8 483.9,496.9 481.1,502.1 C478.3,507.3 474.3,512.6 469.6,517.2 C464.9,521.8 459.0,526.3 452.9,529.9 C446.8,533.5 439.8,536.6 432.8,538.9 C425.8,541.2 418.1,542.8 410.9,543.5 C403.7,544.2 396.3,544.1 389.6,543.2 C382.9,542.3 376.4,540.5 370.9,538.0 C365.4,535.5 360.4,532.2 356.5,528.4 C352.6,524.6 349.6,520.0 347.8,515.3 C346.0,510.6 346.3,503.5 345.8,500.1 C345.3,496.7 345.1,495.9 345.0,495.0 Z" fill="url(#gSil)"/>
<path d="M345.0,490.0 C345.2,491.7 343.6,488.3 346.0,500.0 C348.4,511.7 356.6,547.5 359.5,560.0 C362.4,572.5 361.3,570.3 363.4,574.9 C365.5,579.5 368.5,583.9 372.1,587.6 C375.7,591.3 380.1,594.7 384.8,597.3 C389.6,599.9 395.0,601.9 400.6,603.2 C406.2,604.5 412.5,605.1 418.7,605.0 C424.9,604.9 431.4,604.0 437.6,602.5 C443.8,601.0 450.2,598.7 456.1,595.9 C462.0,593.1 467.9,589.6 473.0,585.7 C478.1,581.8 482.9,577.4 487.0,572.6 C491.1,567.9 495.7,559.8 497.4,557.2 L498.0,545.0 C497.7,541.2 497.3,529.5 496.0,522.0 C494.7,514.5 491.7,506.0 490.0,500.0 C488.3,494.0 486.7,488.3 486.0,486.0 L486.3,486.1 C485.4,488.8 483.9,496.9 481.1,502.1 C478.3,507.3 474.3,512.6 469.6,517.2 C464.9,521.8 459.0,526.3 452.9,529.9 C446.8,533.5 439.8,536.6 432.8,538.9 C425.8,541.2 418.1,542.8 410.9,543.5 C403.7,544.2 396.3,544.1 389.6,543.2 C382.9,542.3 376.4,540.5 370.9,538.0 C365.4,535.5 360.4,532.2 356.5,528.4 C352.6,524.6 349.6,520.0 347.8,515.3 C346.0,510.6 346.3,503.5 345.8,500.1 C345.3,496.7 345.1,495.9 345.0,495.0 Z" fill="url(#gSilV)"/>
<g clip-path="url(#cSil)"><path d="M462.0,600.0 C464.2,590.0 472.3,556.7 475.0,540.0 C477.7,523.3 477.5,506.7 478.0,500.0" stroke="#eef0f2" stroke-width="10" opacity="0.45" fill="none" filter="url(#b3)"/></g>
<path d="M345.8,500.1 C346.1,502.6 346.0,510.6 347.8,515.3 C349.6,520.0 352.6,524.6 356.5,528.4 C360.4,532.2 365.4,535.5 370.9,538.0 C376.4,540.5 382.9,542.3 389.6,543.2 C396.3,544.1 403.7,544.2 410.9,543.5 C418.1,542.8 425.8,541.2 432.8,538.9 C439.8,536.6 446.8,533.5 452.9,529.9 C459.0,526.3 464.9,521.8 469.6,517.2 C474.3,512.6 478.3,507.3 481.1,502.1 C483.9,496.9 485.4,488.8 486.3,486.1" stroke="#dcdee0" stroke-width="1.8" fill="none"/>
<path d="M359.5,560.0 C360.1,562.5 361.3,570.3 363.4,574.9 C365.5,579.5 368.5,583.9 372.1,587.6 C375.7,591.3 380.1,594.7 384.8,597.3 C389.6,599.9 395.0,601.9 400.6,603.2 C406.2,604.5 412.5,605.1 418.7,605.0 C424.9,604.9 431.4,604.0 437.6,602.5 C443.8,601.0 450.2,598.7 456.1,595.9 C462.0,593.1 467.9,589.6 473.0,585.7 C478.1,581.8 482.9,577.4 487.0,572.6 C491.1,567.9 495.7,559.8 497.4,557.2" stroke="#2e2a28" stroke-width="1.4" fill="none"/>
<line x1="421" y1="316.8" x2="585" y2="316.8" stroke="#111" stroke-width="2.2"/>
<line x1="184" y1="452.6" x2="349" y2="452.6" stroke="#111" stroke-width="2.2"/>
<line x1="491" y1="530" x2="600" y2="530" stroke="#111" stroke-width="2.2"/>
<line x1="227" y1="635.5" x2="392" y2="635.5" stroke="#111" stroke-width="2.2"/>
<line x1="277" y1="762.8" x2="442" y2="762.8" stroke="#111" stroke-width="2.2"/>
<circle cx="417" cy="316.8" r="4.4" fill="#fff" fill-opacity="0.3" stroke="#111" stroke-width="1.8"/><circle cx="417" cy="316.8" r="2.1" fill="#111"/>
<circle cx="353" cy="452.6" r="4.4" fill="#fff" fill-opacity="0.3" stroke="#111" stroke-width="1.8"/><circle cx="353" cy="452.6" r="2.1" fill="#111"/>
<circle cx="487" cy="530" r="4.4" fill="#fff" fill-opacity="0.3" stroke="#111" stroke-width="1.8"/><circle cx="487" cy="530" r="2.1" fill="#111"/>
<circle cx="396" cy="635.5" r="4.4" fill="#fff" fill-opacity="0.3" stroke="#111" stroke-width="1.8"/><circle cx="396" cy="635.5" r="2.1" fill="#111"/>
<circle cx="446" cy="762.8" r="4.4" fill="#fff" fill-opacity="0.3" stroke="#111" stroke-width="1.8"/><circle cx="446" cy="762.8" r="2.1" fill="#111"/>
<line x1="28" y1="126" x2="502.5" y2="126" stroke="#111" stroke-width="2.3"/>
<text x="33.5" y="75" font-size="37" fill="#0a0a0a" stroke="#0a0a0a" stroke-width="0.9" textLength="304.5" lengthAdjust="spacingAndGlyphs">Internal structure</text>
<text x="16.5" y="150.8" font-size="15" fill="#231c22" stroke="#231c22" stroke-width="0.6" textLength="604.5" lengthAdjust="spacingAndGlyphs">Double-layer outer shell PVC + LDPE outdoor waterproof, sunproof, freeze-proof</text>
<text x="511" y="305.6" font-size="15.5" fill="#0a0a0a" stroke="#0a0a0a" stroke-width="0.5" textLength="150.5" lengthAdjust="spacingAndGlyphs">26AGW wire gauge</text>
<text x="87" y="440" font-size="16.5" fill="#0a0a0a" stroke="#0a0a0a" stroke-width="0.5" textLength="230.0" lengthAdjust="spacingAndGlyphs">Tensile-resistant outer skin</text>
<text x="584.5" y="512.6" font-size="18.6" fill="#0a0a0a" stroke="#0a0a0a" stroke-width="0.55" textLength="59.5" lengthAdjust="spacingAndGlyphs">Shield</text>
<text x="584.5" y="535" font-size="18.6" fill="#0a0a0a" stroke="#0a0a0a" stroke-width="0.55" textLength="52.5" lengthAdjust="spacingAndGlyphs">Layer</text>
<text x="226.5" y="623.8" font-size="15.8" fill="#0a0a0a" stroke="#0a0a0a" stroke-width="0.5" textLength="99.0" lengthAdjust="spacingAndGlyphs">Shield Layer</text>
<text x="225" y="749" font-size="15.8" fill="#0a0a0a" stroke="#0a0a0a" stroke-width="0.5" textLength="115.5" lengthAdjust="spacingAndGlyphs">PVC outer skin</text>
</svg></body></html>
